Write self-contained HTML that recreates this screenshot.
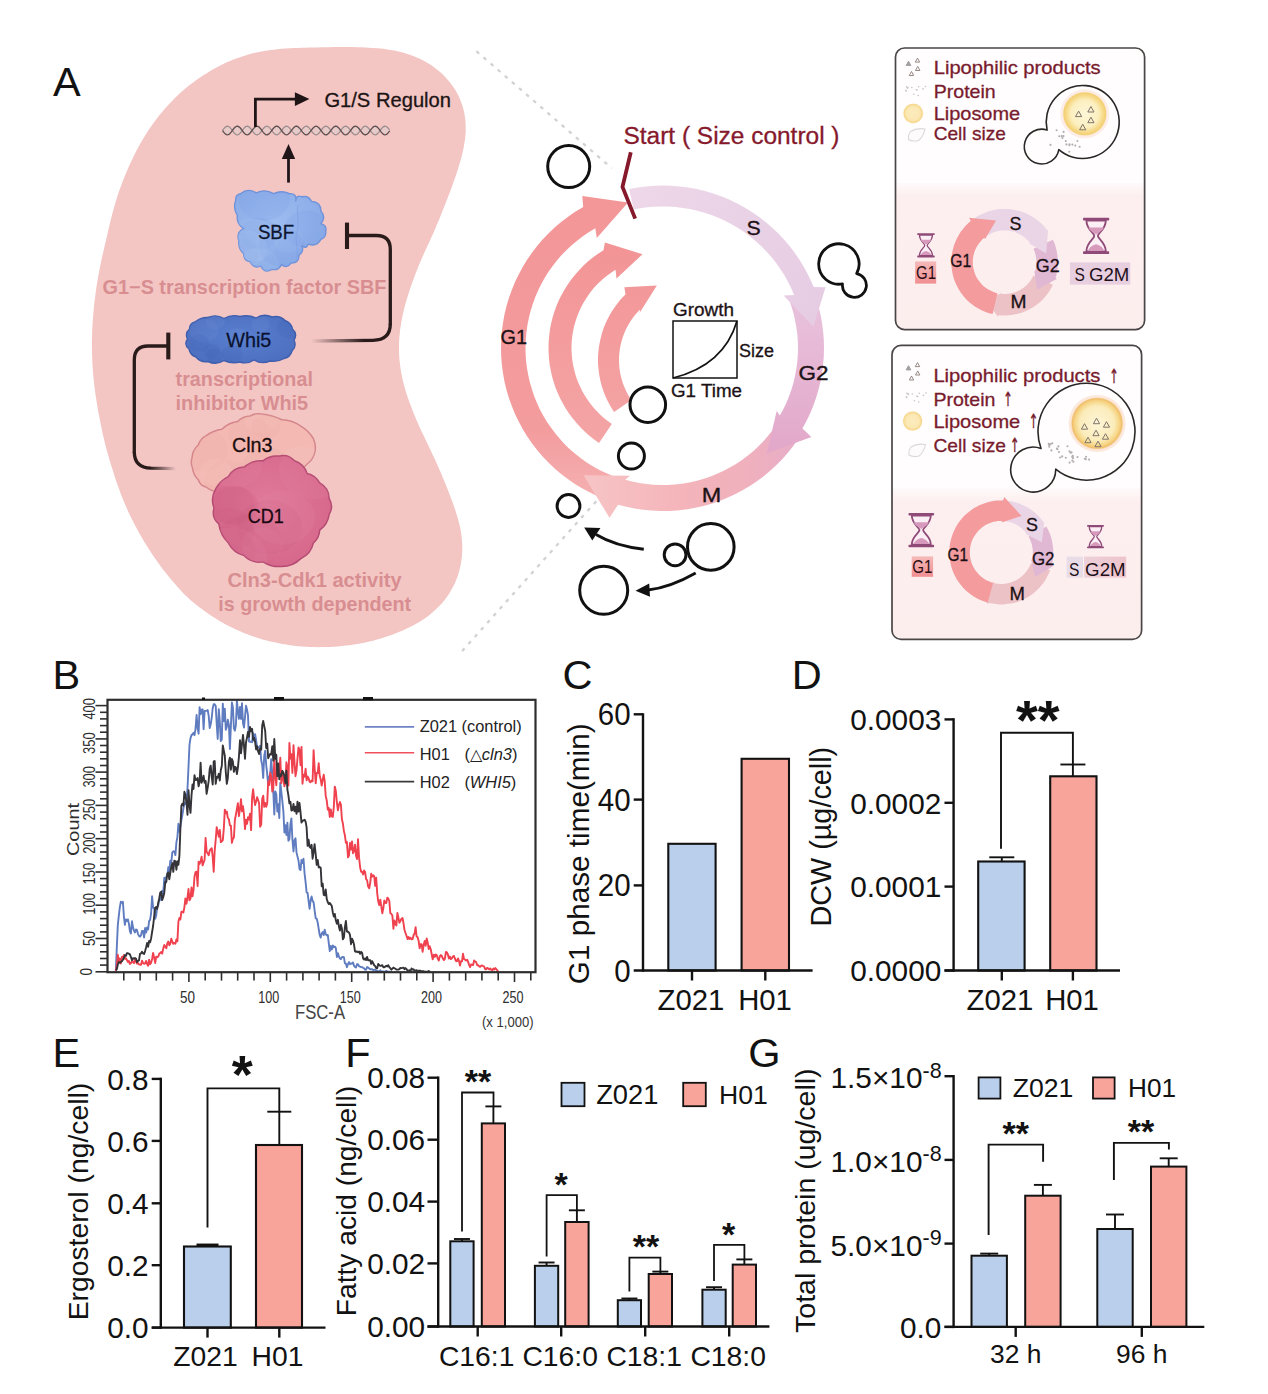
<!DOCTYPE html>
<html><head><meta charset="utf-8"><title>Figure</title>
<style>
html,body{margin:0;padding:0;background:#fff;}
svg{display:block;font-family:'Liberation Sans', sans-serif;}
</style></head><body>
<svg width="1268" height="1394" viewBox="0 0 1268 1394">
<rect width="1268" height="1394" fill="#ffffff"/>
<g id="chartC">
<text x="562.4" y="689.3" font-size="41.5" text-anchor="start" fill="#121212" font-weight="normal" >C</text>
<rect x="668.3" y="843.8" width="47.30000000000007" height="126.70000000000005" fill="#b9cfeb" stroke="#121212" stroke-width="2.1"/>
<rect x="741.6" y="758.8" width="47.39999999999998" height="211.70000000000005" fill="#f8a49b" stroke="#121212" stroke-width="2.1"/>
<line x1="643" y1="713.2" x2="643" y2="971.7" stroke="#121212" stroke-width="2.4" />
<line x1="633.7" y1="970.5" x2="812.6" y2="970.5" stroke="#121212" stroke-width="2.4" />
<line x1="633.7" y1="714.3" x2="643" y2="714.3" stroke="#121212" stroke-width="2.4" />
<text x="630.6" y="725.3" font-size="30.7" text-anchor="end" fill="#121212" font-weight="normal" textLength="32.8" lengthAdjust="spacingAndGlyphs" >60</text>
<line x1="633.7" y1="799.6" x2="643" y2="799.6" stroke="#121212" stroke-width="2.4" />
<text x="630.6" y="810.6" font-size="30.7" text-anchor="end" fill="#121212" font-weight="normal" textLength="32.8" lengthAdjust="spacingAndGlyphs" >40</text>
<line x1="633.7" y1="885.4" x2="643" y2="885.4" stroke="#121212" stroke-width="2.4" />
<text x="630.6" y="896.4" font-size="30.7" text-anchor="end" fill="#121212" font-weight="normal" textLength="32.8" lengthAdjust="spacingAndGlyphs" >20</text>
<text x="630.6" y="981.5" font-size="30.7" text-anchor="end" fill="#121212" font-weight="normal" textLength="16.4" lengthAdjust="spacingAndGlyphs" >0</text>
<line x1="692" y1="970.5" x2="692" y2="980.5" stroke="#121212" stroke-width="2.4" />
<line x1="765.3" y1="970.5" x2="765.3" y2="980.5" stroke="#121212" stroke-width="2.4" />
<text x="691" y="1010" font-size="29.3" text-anchor="middle" fill="#121212" font-weight="normal" >Z021</text>
<text x="765" y="1010" font-size="29.3" text-anchor="middle" fill="#121212" font-weight="normal" >H01</text>
<text transform="translate(589.3,853.8) rotate(-90)" font-size="29.7" text-anchor="middle" fill="#121212" >G1 phase time(min)</text>
</g>
<g id="chartD">
<text x="791.8" y="689" font-size="41.5" text-anchor="start" fill="#121212" font-weight="normal" >D</text>
<line x1="1001.8" y1="857.3" x2="1001.8" y2="862" stroke="#121212" stroke-width="1.9" /><line x1="989.3" y1="857.3" x2="1014.3" y2="857.3" stroke="#121212" stroke-width="1.9" />
<line x1="1072.9" y1="764.5" x2="1072.9" y2="777" stroke="#121212" stroke-width="1.9" /><line x1="1060.4" y1="764.5" x2="1085.4" y2="764.5" stroke="#121212" stroke-width="1.9" />
<rect x="978.2" y="861.5" width="46.399999999999864" height="109.0" fill="#b9cfeb" stroke="#121212" stroke-width="2.1"/>
<rect x="1050.2" y="776.3" width="46.299999999999955" height="194.20000000000005" fill="#f8a49b" stroke="#121212" stroke-width="2.1"/>
<line x1="953.6" y1="718.2" x2="953.6" y2="971.7" stroke="#121212" stroke-width="2.4" />
<line x1="944.5" y1="970.5" x2="1120" y2="970.5" stroke="#121212" stroke-width="2.4" />
<line x1="944.5" y1="719.4" x2="953.6" y2="719.4" stroke="#121212" stroke-width="2.4" />
<text x="941.3" y="730.1" font-size="29.8" text-anchor="end" fill="#121212" font-weight="normal" >0.0003</text>
<line x1="944.5" y1="802.8" x2="953.6" y2="802.8" stroke="#121212" stroke-width="2.4" />
<text x="941.3" y="813.5" font-size="29.8" text-anchor="end" fill="#121212" font-weight="normal" >0.0002</text>
<line x1="944.5" y1="886.6" x2="953.6" y2="886.6" stroke="#121212" stroke-width="2.4" />
<text x="941.3" y="897.3000000000001" font-size="29.8" text-anchor="end" fill="#121212" font-weight="normal" >0.0001</text>
<line x1="944.5" y1="970.5" x2="953.6" y2="970.5" stroke="#121212" stroke-width="2.4" />
<text x="941.3" y="981.2" font-size="29.8" text-anchor="end" fill="#121212" font-weight="normal" >0.0000</text>
<line x1="1001.8" y1="970.5" x2="1001.8" y2="980.5" stroke="#121212" stroke-width="2.4" />
<line x1="1072.9" y1="970.5" x2="1072.9" y2="980.5" stroke="#121212" stroke-width="2.4" />
<text x="1000" y="1010" font-size="29.3" text-anchor="middle" fill="#121212" font-weight="normal" >Z021</text>
<text x="1072" y="1010" font-size="29.3" text-anchor="middle" fill="#121212" font-weight="normal" >H01</text>
<text transform="translate(831,836.7) rotate(-90)" font-size="28.8" text-anchor="middle" fill="#121212" >DCW (µg/cell)</text>
<path d="M1001,848.7 V732.8 H1072.9 V764.5" fill="none" stroke="#121212" stroke-width="1.9"/>
<text x="1037.8" y="739" font-size="56" text-anchor="middle" fill="#121212" font-weight="bold" dominant-baseline="auto">**</text>
</g>
<g id="chartE">
<text x="52.5" y="1067.1" font-size="41.5" text-anchor="start" fill="#121212" font-weight="normal" >E</text>
<line x1="207.5" y1="1244.8" x2="207.5" y2="1248" stroke="#121212" stroke-width="2.5" /><line x1="196.5" y1="1244.8" x2="218.5" y2="1244.8" stroke="#121212" stroke-width="2.5" />
<line x1="279.3" y1="1111.7" x2="279.3" y2="1146" stroke="#121212" stroke-width="1.9" /><line x1="267.3" y1="1111.7" x2="291.3" y2="1111.7" stroke="#121212" stroke-width="1.9" />
<rect x="184" y="1246.5" width="46.80000000000001" height="81.09999999999991" fill="#b9cfeb" stroke="#121212" stroke-width="2.1"/>
<rect x="256" y="1145" width="46" height="182.5999999999999" fill="#f8a49b" stroke="#121212" stroke-width="2.1"/>
<line x1="160.8" y1="1077.7" x2="160.8" y2="1328.8" stroke="#121212" stroke-width="2.4" />
<line x1="151.7" y1="1327.6" x2="325.5" y2="1327.6" stroke="#121212" stroke-width="2.4" />
<line x1="151.7" y1="1078.9" x2="160.8" y2="1078.9" stroke="#121212" stroke-width="2.4" />
<text x="148.6" y="1089.6000000000001" font-size="29.8" text-anchor="end" fill="#121212" font-weight="normal" >0.8</text>
<line x1="151.7" y1="1140.9" x2="160.8" y2="1140.9" stroke="#121212" stroke-width="2.4" />
<text x="148.6" y="1151.6000000000001" font-size="29.8" text-anchor="end" fill="#121212" font-weight="normal" >0.6</text>
<line x1="151.7" y1="1203.3" x2="160.8" y2="1203.3" stroke="#121212" stroke-width="2.4" />
<text x="148.6" y="1214.0" font-size="29.8" text-anchor="end" fill="#121212" font-weight="normal" >0.4</text>
<line x1="151.7" y1="1265.2" x2="160.8" y2="1265.2" stroke="#121212" stroke-width="2.4" />
<text x="148.6" y="1275.9" font-size="29.8" text-anchor="end" fill="#121212" font-weight="normal" >0.2</text>
<line x1="151.7" y1="1327.6" x2="160.8" y2="1327.6" stroke="#121212" stroke-width="2.4" />
<text x="148.6" y="1338.3" font-size="29.8" text-anchor="end" fill="#121212" font-weight="normal" >0.0</text>
<line x1="207.5" y1="1327.6" x2="207.5" y2="1337.6" stroke="#121212" stroke-width="2.4" />
<line x1="279.3" y1="1327.6" x2="279.3" y2="1337.6" stroke="#121212" stroke-width="2.4" />
<text x="205.5" y="1365.6" font-size="28.3" text-anchor="middle" fill="#121212" font-weight="normal" >Z021</text>
<text x="277.5" y="1365.6" font-size="28.3" text-anchor="middle" fill="#121212" font-weight="normal" >H01</text>
<text transform="translate(87.9,1201.6) rotate(-90)" font-size="28.3" text-anchor="middle" fill="#121212" >Ergosterol (ng/cell)</text>
<path d="M207.5,1227.4 V1088.4 H279.3 V1111.7" fill="none" stroke="#121212" stroke-width="1.9"/>
<text x="242.3" y="1093" font-size="54" text-anchor="middle" fill="#121212" font-weight="bold" dominant-baseline="auto">*</text>
</g>
<g id="chartF">
<text x="345.3" y="1067.1" font-size="41.5" text-anchor="start" fill="#121212" font-weight="normal" >F</text>
<line x1="461.95000000000005" y1="1239.0" x2="461.95000000000005" y2="1242.3" stroke="#121212" stroke-width="1.9" /><line x1="453.95000000000005" y1="1239.0" x2="469.95000000000005" y2="1239.0" stroke="#121212" stroke-width="1.9" />
<line x1="493.4" y1="1106.4" x2="493.4" y2="1124.4" stroke="#121212" stroke-width="1.9" /><line x1="485.4" y1="1106.4" x2="501.4" y2="1106.4" stroke="#121212" stroke-width="1.9" />
<rect x="450.3" y="1241.3" width="23.30000000000001" height="85.20000000000005" fill="#b9cfeb" stroke="#121212" stroke-width="2.0"/>
<rect x="481.8" y="1123.4" width="23.19999999999999" height="203.0999999999999" fill="#f8a49b" stroke="#121212" stroke-width="2.0"/>
<line x1="477.7" y1="1326.5" x2="477.7" y2="1336.5" stroke="#121212" stroke-width="2.4" />
<text x="476.7" y="1365.6" font-size="28.3" text-anchor="middle" fill="#121212" font-weight="normal" >C16:1</text>
<line x1="546.55" y1="1262.5" x2="546.55" y2="1266.8" stroke="#121212" stroke-width="1.9" /><line x1="538.55" y1="1262.5" x2="554.55" y2="1262.5" stroke="#121212" stroke-width="1.9" />
<line x1="576.9000000000001" y1="1210.3" x2="576.9000000000001" y2="1223.0" stroke="#121212" stroke-width="1.9" /><line x1="568.9000000000001" y1="1210.3" x2="584.9000000000001" y2="1210.3" stroke="#121212" stroke-width="1.9" />
<rect x="534.9" y="1265.8" width="23.300000000000068" height="60.700000000000045" fill="#b9cfeb" stroke="#121212" stroke-width="2.0"/>
<rect x="565.2" y="1222.0" width="23.399999999999977" height="104.5" fill="#f8a49b" stroke="#121212" stroke-width="2.0"/>
<line x1="561.2" y1="1326.5" x2="561.2" y2="1336.5" stroke="#121212" stroke-width="2.4" />
<text x="560.2" y="1365.6" font-size="28.3" text-anchor="middle" fill="#121212" font-weight="normal" >C16:0</text>
<line x1="629.4" y1="1298.5" x2="629.4" y2="1301.2" stroke="#121212" stroke-width="1.9" /><line x1="621.4" y1="1298.5" x2="637.4" y2="1298.5" stroke="#121212" stroke-width="1.9" />
<line x1="660.35" y1="1271.6" x2="660.35" y2="1275.0" stroke="#121212" stroke-width="1.9" /><line x1="652.35" y1="1271.6" x2="668.35" y2="1271.6" stroke="#121212" stroke-width="1.9" />
<rect x="617.8" y="1300.2" width="23.200000000000045" height="26.299999999999955" fill="#b9cfeb" stroke="#121212" stroke-width="2.0"/>
<rect x="648.7" y="1274.0" width="23.299999999999955" height="52.5" fill="#f8a49b" stroke="#121212" stroke-width="2.0"/>
<line x1="645.2" y1="1326.5" x2="645.2" y2="1336.5" stroke="#121212" stroke-width="2.4" />
<text x="644.2" y="1365.6" font-size="28.3" text-anchor="middle" fill="#121212" font-weight="normal" >C18:1</text>
<line x1="714.05" y1="1287.2" x2="714.05" y2="1290.7" stroke="#121212" stroke-width="1.9" /><line x1="706.05" y1="1287.2" x2="722.05" y2="1287.2" stroke="#121212" stroke-width="1.9" />
<line x1="744.35" y1="1259.4" x2="744.35" y2="1265.6" stroke="#121212" stroke-width="1.9" /><line x1="736.35" y1="1259.4" x2="752.35" y2="1259.4" stroke="#121212" stroke-width="1.9" />
<rect x="702.4" y="1289.7" width="23.300000000000068" height="36.799999999999955" fill="#b9cfeb" stroke="#121212" stroke-width="2.0"/>
<rect x="732.7" y="1264.6" width="23.299999999999955" height="61.90000000000009" fill="#f8a49b" stroke="#121212" stroke-width="2.0"/>
<line x1="729.2" y1="1326.5" x2="729.2" y2="1336.5" stroke="#121212" stroke-width="2.4" />
<text x="728.2" y="1365.6" font-size="28.3" text-anchor="middle" fill="#121212" font-weight="normal" >C18:0</text>
<line x1="438.2" y1="1076.5" x2="438.2" y2="1327.7" stroke="#121212" stroke-width="2.4" />
<line x1="427.5" y1="1326.5" x2="769.4" y2="1326.5" stroke="#121212" stroke-width="2.4" />
<line x1="427.5" y1="1077.7" x2="438.2" y2="1077.7" stroke="#121212" stroke-width="2.4" />
<text x="425.2" y="1088.4" font-size="29.8" text-anchor="end" fill="#121212" font-weight="normal" >0.08</text>
<line x1="427.5" y1="1139.7" x2="438.2" y2="1139.7" stroke="#121212" stroke-width="2.4" />
<text x="425.2" y="1150.4" font-size="29.8" text-anchor="end" fill="#121212" font-weight="normal" >0.06</text>
<line x1="427.5" y1="1201.6" x2="438.2" y2="1201.6" stroke="#121212" stroke-width="2.4" />
<text x="425.2" y="1212.3" font-size="29.8" text-anchor="end" fill="#121212" font-weight="normal" >0.04</text>
<line x1="427.5" y1="1263.4" x2="438.2" y2="1263.4" stroke="#121212" stroke-width="2.4" />
<text x="425.2" y="1274.1000000000001" font-size="29.8" text-anchor="end" fill="#121212" font-weight="normal" >0.02</text>
<line x1="427.5" y1="1326.5" x2="438.2" y2="1326.5" stroke="#121212" stroke-width="2.4" />
<text x="425.2" y="1337.2" font-size="29.8" text-anchor="end" fill="#121212" font-weight="normal" >0.00</text>
<text transform="translate(355.6,1201.1) rotate(-90)" font-size="28.2" text-anchor="middle" fill="#121212" >Fatty acid (ng/cell)</text>
<path d="M462,1231.6 V1092.5 H493.5 V1106.4" fill="none" stroke="#121212" stroke-width="1.8"/>
<text x="478" y="1093" font-size="34" text-anchor="middle" fill="#121212" font-weight="bold" dominant-baseline="auto">**</text>
<path d="M546.6,1256.4 V1195.2 H576.9 V1210.3" fill="none" stroke="#121212" stroke-width="1.8"/>
<text x="561.2" y="1196" font-size="34" text-anchor="middle" fill="#121212" font-weight="bold" dominant-baseline="auto">*</text>
<path d="M629.4,1291.5 V1257.6 H660.4 V1271.6" fill="none" stroke="#121212" stroke-width="1.8"/>
<text x="646" y="1258" font-size="34" text-anchor="middle" fill="#121212" font-weight="bold" dominant-baseline="auto">**</text>
<path d="M714,1281 V1244.8 H744.4 V1259.4" fill="none" stroke="#121212" stroke-width="1.8"/>
<text x="728.6" y="1246" font-size="34" text-anchor="middle" fill="#121212" font-weight="bold" dominant-baseline="auto">*</text>
<rect x="561.5" y="1082.8" width="23" height="23.4" fill="#b9cfeb" stroke="#121212" stroke-width="1.8"/>
<text x="596.2" y="1103.9" font-size="27.3" text-anchor="start" fill="#121212" font-weight="normal" >Z021</text>
<rect x="683.2" y="1082.8" width="22.6" height="23.4" fill="#f8a49b" stroke="#121212" stroke-width="1.8"/>
<text x="719" y="1103.9" font-size="26.6" text-anchor="start" fill="#121212" font-weight="normal" >H01</text>
</g>
<g id="chartG">
<text x="748.2" y="1066.8" font-size="41.5" text-anchor="start" fill="#121212" font-weight="normal" >G</text>
<line x1="989.2" y1="1253.6" x2="989.2" y2="1256.7" stroke="#121212" stroke-width="1.9" /><line x1="980.2" y1="1253.6" x2="998.2" y2="1253.6" stroke="#121212" stroke-width="1.9" />
<rect x="971.5" y="1255.7" width="35.39999999999998" height="71.20000000000005" fill="#b9cfeb" stroke="#121212" stroke-width="2.0"/>
<line x1="1042.9" y1="1184.9" x2="1042.9" y2="1196.7" stroke="#121212" stroke-width="1.9" /><line x1="1033.9" y1="1184.9" x2="1051.9" y2="1184.9" stroke="#121212" stroke-width="1.9" />
<rect x="1025.2" y="1195.7" width="35.399999999999864" height="131.20000000000005" fill="#f8a49b" stroke="#121212" stroke-width="2.0"/>
<line x1="1115.0" y1="1214.5" x2="1115.0" y2="1230.0" stroke="#121212" stroke-width="1.9" /><line x1="1106.0" y1="1214.5" x2="1124.0" y2="1214.5" stroke="#121212" stroke-width="1.9" />
<rect x="1097.3" y="1229.0" width="35.40000000000009" height="97.90000000000009" fill="#b9cfeb" stroke="#121212" stroke-width="2.0"/>
<line x1="1168.7" y1="1158.3" x2="1168.7" y2="1167.6" stroke="#121212" stroke-width="1.9" /><line x1="1159.7" y1="1158.3" x2="1177.7" y2="1158.3" stroke="#121212" stroke-width="1.9" />
<rect x="1151.0" y="1166.6" width="35.40000000000009" height="160.30000000000018" fill="#f8a49b" stroke="#121212" stroke-width="2.0"/>
<line x1="953.6" y1="1075" x2="953.6" y2="1328.1000000000001" stroke="#121212" stroke-width="2.4" />
<line x1="944.5" y1="1326.9" x2="1204.3" y2="1326.9" stroke="#121212" stroke-width="2.4" />
<line x1="944.5" y1="1076.2" x2="953.6" y2="1076.2" stroke="#121212" stroke-width="2.4" />
<text x="941.6" y="1088.2" font-size="29.8" text-anchor="end" fill="#121212">1.5×10<tspan font-size="21.5" dy="-10.6">-8</tspan></text>
<line x1="944.5" y1="1159.9" x2="953.6" y2="1159.9" stroke="#121212" stroke-width="2.4" />
<text x="941.6" y="1171.9" font-size="29.8" text-anchor="end" fill="#121212">1.0×10<tspan font-size="21.5" dy="-10.6">-8</tspan></text>
<line x1="944.5" y1="1243.6" x2="953.6" y2="1243.6" stroke="#121212" stroke-width="2.4" />
<text x="941.6" y="1255.6" font-size="29.8" text-anchor="end" fill="#121212">5.0×10<tspan font-size="21.5" dy="-10.6">-9</tspan></text>
<line x1="944.5" y1="1326.9" x2="953.6" y2="1326.9" stroke="#121212" stroke-width="2.4" />
<text x="941.3" y="1337.6000000000001" font-size="29.8" text-anchor="end" fill="#121212" font-weight="normal" >0.0</text>
<line x1="1015.7" y1="1326.9" x2="1015.7" y2="1336.9" stroke="#121212" stroke-width="2.4" />
<text x="1015.7" y="1363" font-size="26.4" text-anchor="middle" fill="#121212" font-weight="normal" >32 h</text>
<line x1="1141.8" y1="1326.9" x2="1141.8" y2="1336.9" stroke="#121212" stroke-width="2.4" />
<text x="1141.8" y="1363" font-size="26.4" text-anchor="middle" fill="#121212" font-weight="normal" >96 h</text>
<text transform="translate(814.6,1200.7) rotate(-90)" font-size="28.5" text-anchor="middle" fill="#121212" >Total protein (ug/cell)</text>
<path d="M988.6,1234.9 V1144.6 H1043.1 V1161.8" fill="none" stroke="#121212" stroke-width="1.9"/>
<text x="1015.7" y="1144.5" font-size="34" text-anchor="middle" fill="#121212" font-weight="bold" dominant-baseline="auto">**</text>
<path d="M1113.9,1179.9 V1142.9 H1168.9 V1149.5" fill="none" stroke="#121212" stroke-width="1.9"/>
<text x="1141" y="1143" font-size="34" text-anchor="middle" fill="#121212" font-weight="bold" dominant-baseline="auto">**</text>
<rect x="978.6" y="1077.4" width="21.8" height="21.2" fill="#b9cfeb" stroke="#121212" stroke-width="1.8"/>
<text x="1012.7" y="1097" font-size="26.6" text-anchor="start" fill="#121212" font-weight="normal" >Z021</text>
<rect x="1093" y="1077.4" width="21.6" height="21.2" fill="#f8a49b" stroke="#121212" stroke-width="1.8"/>
<text x="1128" y="1097" font-size="26.2" text-anchor="start" fill="#121212" font-weight="normal" >H01</text>
</g>
<g id="panelB">
<text x="52.4" y="689" font-size="41.5" text-anchor="start" fill="#121212" font-weight="normal" >B</text>
<clipPath id="bclip"><rect x="107.5" y="700" width="428" height="272.5"/></clipPath>
<g clip-path="url(#bclip)" fill="none" stroke-linejoin="round" stroke-width="1.9">
<polyline points="115.8,971.8 116.8,947.6 117.8,925.1 118.8,915.9 119.8,907.3 120.8,901.8 121.9,902.7 122.9,901.8 123.9,916.6 124.9,924.8 125.9,919.4 126.9,920.9 127.9,919.4 128.9,923.6 129.9,931.2 130.9,933.5 132.0,921.3 133.0,927.4 134.0,930.6 135.0,932.5 136.0,929.5 137.0,930.1 138.0,934.1 139.0,935.9 140.0,936.6 141.0,935.2 142.0,930.9 143.1,931.0 144.1,937.5 145.1,928.0 146.1,932.5 147.1,927.5 148.1,929.5 149.1,921.2 150.1,919.9 151.1,913.2 152.1,896.3 153.1,907.7 154.2,907.9 155.2,918.8 156.2,915.5 157.2,907.2 158.2,905.7 159.2,900.1 160.2,897.2 161.2,900.2 162.2,890.7 163.2,894.0 164.3,877.7 165.3,883.9 166.3,876.6 167.3,875.8 168.3,867.1 169.3,871.7 170.3,860.8 171.3,862.5 172.3,852.4 173.3,851.3 174.3,851.5 175.4,855.1 176.4,842.4 177.4,837.1 178.4,823.8 179.4,831.8 180.4,825.9 181.4,820.1 182.4,814.8 183.4,808.6 184.4,802.6 185.4,804.0 186.5,801.6 187.5,788.0 188.5,766.9 189.5,744.6 190.5,738.1 191.5,735.1 192.5,734.4 193.5,732.7 194.5,735.2 195.5,729.1 196.6,715.0 197.6,728.0 198.6,733.7 199.6,707.1 200.6,714.2 201.6,709.9 202.6,709.3 203.6,729.1 204.6,710.9 205.6,710.9 206.6,710.9 207.7,710.0 208.7,715.9 209.7,728.0 210.7,724.3 211.7,718.0 212.7,708.2 213.7,704.3 214.7,704.3 215.7,705.9 216.7,724.0 217.7,738.9 218.8,709.1 219.8,721.5 220.8,741.1 221.8,739.5 222.8,703.6 223.8,721.0 224.8,708.6 225.8,729.7 226.8,727.0 227.8,719.6 228.9,725.0 229.9,749.0 230.9,725.7 231.9,702.5 232.9,707.5 233.9,728.4 234.9,730.7 235.9,725.1 236.9,700.6 237.9,710.6 238.9,718.8 240.0,707.0 241.0,718.9 242.0,703.3 243.0,723.1 244.0,727.6 245.0,716.9 246.0,705.8 247.0,709.4 248.0,715.4 249.0,741.5 250.0,741.7 251.1,741.8 252.1,742.2 253.1,733.1 254.1,740.7 255.1,734.2 256.1,740.2 257.1,747.4 258.1,747.4 259.1,747.1 260.1,745.7 261.2,760.2 262.2,765.0 263.2,777.9 264.2,755.9 265.2,750.7 266.2,765.0 267.2,773.8 268.2,784.8 269.2,776.9 270.2,774.5 271.2,759.1 272.3,774.1 273.3,791.5 274.3,814.5 275.3,791.4 276.3,794.2 277.3,811.5 278.3,804.2 279.3,818.0 280.3,782.7 281.3,791.5 282.3,800.7 283.4,811.6 284.4,832.5 285.4,825.2 286.4,835.0 287.4,822.7 288.4,840.8 289.4,839.3 290.4,824.5 291.4,818.4 292.4,839.5 293.5,851.5 294.5,840.2 295.5,838.3 296.5,852.4 297.5,856.6 298.5,860.5 299.5,869.0 300.5,870.1 301.5,859.9 302.5,863.1 303.5,858.8 304.6,873.8 305.6,882.1 306.6,892.4 307.6,892.8 308.6,901.1 309.6,908.8 310.6,900.5 311.6,896.5 312.6,900.9 313.6,902.4 314.6,910.1 315.7,918.4 316.7,918.7 317.7,922.5 318.7,928.8 319.7,935.0 320.7,937.6 321.7,933.5 322.7,932.1 323.7,935.0 324.7,929.8 325.7,934.0 326.8,935.4 327.8,935.0 328.8,943.3 329.8,951.1 330.8,945.9 331.8,949.6 332.8,945.4 333.8,947.2 334.8,946.6 335.8,947.8 336.9,957.0 337.9,953.2 338.9,956.4 339.9,958.5 340.9,959.1 341.9,957.1 342.9,956.9 343.9,957.2 344.9,963.4 345.9,963.4 346.9,967.2 348.0,964.2 349.0,962.1 350.0,964.2 351.0,963.4 352.0,963.5 353.0,962.5 354.0,965.6 355.0,966.9 356.0,967.5 357.0,964.2 358.0,964.3 359.1,966.3 360.1,966.6 361.1,967.0 362.1,967.1 363.1,967.8 364.1,968.3 365.1,969.8 366.1,969.6 367.1,967.0 368.1,967.6 369.2,968.4 370.2,969.2 371.2,969.2 372.2,969.1 373.2,970.1 374.2,969.8 375.2,969.7 376.2,970.5 377.2,970.9 378.2,971.3 379.2,971.5 380.3,970.3 381.3,971.8 382.3,971.5 383.3,971.5 384.3,971.6 385.3,971.4 386.3,970.9 387.3,971.3 388.3,971.6 389.3,971.8 390.3,971.8" stroke="#5f7cc0"/>
<polyline points="115.8,970.9 116.8,965.5 117.8,954.8 118.8,961.4 119.8,958.6 120.8,963.5 121.9,957.0 122.9,957.4 123.9,955.0 124.9,958.8 125.9,958.3 126.9,960.0 127.9,961.9 128.9,960.9 129.9,963.9 130.9,963.3 132.0,961.1 133.0,961.9 134.0,963.2 135.0,958.5 136.0,961.3 137.0,963.6 138.0,963.1 139.0,964.4 140.0,964.7 141.0,964.9 142.0,960.7 143.1,963.1 144.1,963.8 145.1,963.3 146.1,960.9 147.1,964.0 148.1,965.7 149.1,959.7 150.1,964.2 151.1,962.7 152.1,959.0 153.1,953.0 154.2,957.9 155.2,963.0 156.2,956.7 157.2,957.2 158.2,956.7 159.2,953.7 160.2,952.9 161.2,952.1 162.2,953.6 163.2,948.6 164.3,945.0 165.3,947.0 166.3,948.2 167.3,943.4 168.3,941.5 169.3,945.3 170.3,943.9 171.3,938.7 172.3,941.5 173.3,943.8 174.3,943.0 175.4,943.8 176.4,939.4 177.4,941.3 178.4,921.8 179.4,918.0 180.4,919.4 181.4,911.6 182.4,911.7 183.4,912.6 184.4,907.1 185.4,898.4 186.5,903.7 187.5,897.6 188.5,889.0 189.5,900.3 190.5,898.5 191.5,887.4 192.5,896.4 193.5,890.0 194.5,876.8 195.5,872.1 196.6,871.7 197.6,886.0 198.6,861.8 199.6,863.9 200.6,861.4 201.6,856.7 202.6,865.4 203.6,862.5 204.6,859.8 205.6,837.9 206.6,851.7 207.7,853.4 208.7,855.2 209.7,850.7 210.7,849.4 211.7,848.2 212.7,856.9 213.7,871.8 214.7,850.3 215.7,839.9 216.7,827.1 217.7,831.5 218.8,836.7 219.8,829.9 220.8,842.1 221.8,841.5 222.8,840.2 223.8,828.7 224.8,809.6 225.8,813.4 226.8,811.5 227.8,817.8 228.9,819.3 229.9,825.3 230.9,825.7 231.9,842.9 232.9,838.7 233.9,837.7 234.9,819.8 235.9,814.8 236.9,808.9 237.9,803.2 238.9,816.1 240.0,809.2 241.0,799.1 242.0,811.4 243.0,806.3 244.0,814.6 245.0,829.1 246.0,819.6 247.0,823.8 248.0,817.3 249.0,819.6 250.0,813.7 251.1,830.1 252.1,797.5 253.1,789.3 254.1,798.7 255.1,805.1 256.1,801.6 257.1,797.1 258.1,800.0 259.1,803.3 260.1,826.7 261.2,824.6 262.2,798.9 263.2,795.7 264.2,806.8 265.2,802.9 266.2,806.8 267.2,803.4 268.2,781.3 269.2,785.1 270.2,772.8 271.2,776.0 272.3,791.6 273.3,788.2 274.3,758.6 275.3,776.4 276.3,785.2 277.3,766.2 278.3,769.9 279.3,771.6 280.3,757.7 281.3,783.1 282.3,770.7 283.4,780.0 284.4,786.3 285.4,782.6 286.4,762.3 287.4,767.5 288.4,785.5 289.4,742.9 290.4,758.6 291.4,754.2 292.4,772.9 293.5,745.2 294.5,762.3 295.5,776.2 296.5,770.7 297.5,758.2 298.5,747.5 299.5,749.8 300.5,765.2 301.5,746.9 302.5,783.7 303.5,774.7 304.6,776.7 305.6,768.8 306.6,780.2 307.6,776.5 308.6,778.3 309.6,781.6 310.6,782.3 311.6,780.5 312.6,781.3 313.6,750.2 314.6,767.5 315.7,783.3 316.7,773.0 317.7,773.1 318.7,763.3 319.7,775.5 320.7,779.6 321.7,785.6 322.7,780.0 323.7,774.6 324.7,781.2 325.7,795.9 326.8,800.8 327.8,809.6 328.8,808.1 329.8,817.0 330.8,809.4 331.8,816.4 332.8,816.8 333.8,807.4 334.8,786.6 335.8,790.7 336.9,802.6 337.9,810.3 338.9,805.0 339.9,802.0 340.9,804.5 341.9,819.3 342.9,823.5 343.9,831.1 344.9,835.3 345.9,842.8 346.9,842.1 348.0,857.4 349.0,855.5 350.0,842.9 351.0,849.6 352.0,841.4 353.0,853.2 354.0,850.8 355.0,844.6 356.0,855.6 357.0,859.1 358.0,839.2 359.1,857.9 360.1,867.1 361.1,871.9 362.1,871.8 363.1,874.4 364.1,870.5 365.1,872.0 366.1,879.2 367.1,880.1 368.1,886.3 369.2,888.2 370.2,883.1 371.2,873.8 372.2,876.6 373.2,875.2 374.2,876.2 375.2,885.8 376.2,877.7 377.2,893.1 378.2,901.3 379.2,905.1 380.3,899.6 381.3,906.4 382.3,913.4 383.3,908.3 384.3,900.5 385.3,902.8 386.3,903.1 387.3,897.7 388.3,898.5 389.3,901.0 390.3,913.1 391.4,913.9 392.4,915.8 393.4,928.8 394.4,920.4 395.4,923.7 396.4,925.4 397.4,912.9 398.4,917.7 399.4,922.8 400.4,921.0 401.5,918.7 402.5,918.0 403.5,923.2 404.5,930.0 405.5,933.0 406.5,935.8 407.5,939.0 408.5,936.9 409.5,939.0 410.5,937.7 411.5,939.3 412.6,939.0 413.6,935.1 414.6,933.6 415.6,927.2 416.6,936.3 417.6,937.2 418.6,940.7 419.6,948.2 420.6,944.3 421.6,944.1 422.6,951.8 423.7,944.8 424.7,941.0 425.7,945.7 426.7,938.5 427.7,942.4 428.7,949.0 429.7,946.2 430.7,949.2 431.7,954.3 432.7,959.3 433.8,954.7 434.8,956.8 435.8,954.5 436.8,955.3 437.8,958.7 438.8,960.6 439.8,956.4 440.8,955.1 441.8,956.0 442.8,958.3 443.8,960.1 444.9,958.6 445.9,952.0 446.9,952.4 447.9,954.5 448.9,958.5 449.9,956.5 450.9,959.1 451.9,958.2 452.9,956.6 453.9,955.9 454.9,958.5 456.0,961.0 457.0,961.2 458.0,958.4 459.0,960.9 460.0,965.6 461.0,961.1 462.0,961.3 463.0,953.8 464.0,959.0 465.0,959.6 466.1,960.6 467.1,959.7 468.1,961.9 469.1,964.9 470.1,967.1 471.1,964.4 472.1,964.6 473.1,965.1 474.1,960.4 475.1,961.7 476.1,962.0 477.2,965.2 478.2,965.2 479.2,966.3 480.2,966.8 481.2,965.6 482.2,965.5 483.2,966.1 484.2,966.6 485.2,969.2 486.2,969.3 487.2,967.9 488.3,968.6 489.3,969.4 490.3,968.5 491.3,969.8 492.3,970.1 493.3,968.6 494.3,969.5 495.3,968.0 496.3,969.2 497.3,970.3 498.2,971.8" stroke="#f0414e"/>
<polyline points="115.8,970.1 116.8,969.2 117.8,964.5 118.8,962.1 119.8,962.7 120.8,962.1 121.9,961.3 122.9,959.7 123.9,957.9 124.9,955.3 125.9,955.8 126.9,953.2 127.9,953.3 128.9,953.7 129.9,954.4 130.9,957.0 132.0,960.1 133.0,958.3 134.0,958.5 135.0,958.2 136.0,958.6 137.0,962.2 138.0,960.9 139.0,960.4 140.0,953.9 141.0,953.4 142.0,951.7 143.1,953.4 144.1,954.0 145.1,951.1 146.1,947.4 147.1,943.0 148.1,946.8 149.1,941.0 150.1,942.3 151.1,938.4 152.1,932.0 153.1,926.0 154.2,916.2 155.2,908.0 156.2,906.9 157.2,908.9 158.2,902.8 159.2,898.7 160.2,892.6 161.2,891.7 162.2,900.0 163.2,897.2 164.3,892.7 165.3,881.8 166.3,881.8 167.3,873.7 168.3,872.5 169.3,879.3 170.3,873.1 171.3,866.5 172.3,863.2 173.3,871.8 174.3,860.7 175.4,861.3 176.4,869.7 177.4,861.3 178.4,864.8 179.4,856.0 180.4,828.3 181.4,805.6 182.4,803.7 183.4,805.7 184.4,791.8 185.4,794.9 186.5,802.8 187.5,814.7 188.5,790.3 189.5,805.1 190.5,812.9 191.5,795.5 192.5,784.5 193.5,789.0 194.5,775.1 195.5,780.1 196.6,779.8 197.6,778.1 198.6,786.3 199.6,782.1 200.6,762.6 201.6,782.7 202.6,780.1 203.6,775.8 204.6,782.9 205.6,780.9 206.6,793.9 207.7,787.5 208.7,780.9 209.7,769.0 210.7,765.6 211.7,776.7 212.7,784.5 213.7,761.5 214.7,761.1 215.7,783.9 216.7,776.9 217.7,777.7 218.8,773.8 219.8,780.5 220.8,770.0 221.8,766.0 222.8,745.5 223.8,750.6 224.8,755.8 225.8,772.1 226.8,783.8 227.8,778.3 228.9,761.5 229.9,757.6 230.9,769.7 231.9,759.0 232.9,761.7 233.9,771.9 234.9,766.6 235.9,767.5 236.9,774.1 237.9,767.6 238.9,757.2 240.0,740.3 241.0,753.3 242.0,744.2 243.0,734.9 244.0,745.6 245.0,758.8 246.0,742.4 247.0,737.6 248.0,731.9 249.0,736.9 250.0,727.0 251.1,731.4 252.1,728.8 253.1,739.7 254.1,737.9 255.1,741.8 256.1,749.5 257.1,746.1 258.1,751.4 259.1,754.0 260.1,748.8 261.2,749.6 262.2,725.8 263.2,720.9 264.2,726.1 265.2,731.0 266.2,748.0 267.2,743.6 268.2,758.2 269.2,755.9 270.2,753.9 271.2,754.5 272.3,746.1 273.3,760.6 274.3,739.0 275.3,758.9 276.3,754.7 277.3,776.1 278.3,763.4 279.3,779.3 280.3,774.2 281.3,775.9 282.3,771.0 283.4,772.6 284.4,776.3 285.4,783.2 286.4,770.7 287.4,789.6 288.4,795.3 289.4,803.3 290.4,801.7 291.4,810.5 292.4,810.2 293.5,803.9 294.5,811.3 295.5,806.6 296.5,813.9 297.5,801.6 298.5,811.6 299.5,803.0 300.5,812.2 301.5,822.6 302.5,820.7 303.5,820.6 304.6,819.7 305.6,821.6 306.6,827.4 307.6,845.9 308.6,839.8 309.6,846.8 310.6,848.0 311.6,844.8 312.6,858.7 313.6,851.9 314.6,844.1 315.7,854.3 316.7,864.9 317.7,859.9 318.7,867.5 319.7,867.0 320.7,867.7 321.7,886.2 322.7,883.7 323.7,894.9 324.7,895.3 325.7,889.5 326.8,899.3 327.8,902.3 328.8,904.1 329.8,903.0 330.8,904.4 331.8,906.1 332.8,912.4 333.8,916.6 334.8,913.9 335.8,920.3 336.9,923.7 337.9,919.8 338.9,926.4 339.9,930.5 340.9,924.8 341.9,928.6 342.9,939.3 343.9,937.5 344.9,927.1 345.9,920.9 346.9,931.3 348.0,931.9 349.0,932.6 350.0,934.8 351.0,944.2 352.0,938.8 353.0,940.7 354.0,944.5 355.0,951.4 356.0,951.9 357.0,951.4 358.0,952.2 359.1,951.6 360.1,953.8 361.1,951.8 362.1,952.9 363.1,958.4 364.1,959.6 365.1,958.2 366.1,960.1 367.1,956.9 368.1,960.3 369.2,960.3 370.2,960.1 371.2,963.9 372.2,961.2 373.2,963.3 374.2,965.2 375.2,966.1 376.2,968.0 377.2,968.3 378.2,963.9 379.2,965.1 380.3,965.9 381.3,965.7 382.3,965.2 383.3,967.2 384.3,967.2 385.3,966.7 386.3,965.7 387.3,966.5 388.3,965.2 389.3,967.2 390.3,968.1 391.4,969.7 392.4,968.7 393.4,967.6 394.4,968.3 395.4,968.6 396.4,969.6 397.4,969.6 398.4,969.5 399.4,969.2 400.4,967.9 401.5,968.1 402.5,967.9 403.5,967.6 404.5,969.2 405.5,968.1 406.5,969.1 407.5,970.7 408.5,970.6 409.5,970.2 410.5,971.3 411.5,968.5 412.6,969.6 413.6,969.3 414.6,970.9 415.6,970.5 416.6,970.3 417.6,971.0 418.6,970.7 419.6,970.8 420.6,970.7 421.6,971.6 422.6,971.1 423.7,971.3 424.7,971.7 425.7,971.8 426.7,971.8 427.7,971.8 428.7,971.0 429.7,971.8 430.3,971.8" stroke="#333338"/>
</g>
<rect x="107.5" y="699.8" width="428" height="272.4" fill="none" stroke="#2e2e2e" stroke-width="2.2"/>
<rect x="202" y="697.5" width="3" height="2.5" fill="#121212"/><rect x="274" y="697" width="10" height="3.2" fill="#121212"/><rect x="363" y="697" width="10" height="3.2" fill="#121212"/>
<line x1="95.5" y1="971.8" x2="107.5" y2="971.8" stroke="#2e2e2e" stroke-width="1.6" />
<line x1="100.0" y1="965.1" x2="107.5" y2="965.1" stroke="#2e2e2e" stroke-width="1.6" />
<line x1="100.0" y1="958.5" x2="107.5" y2="958.5" stroke="#2e2e2e" stroke-width="1.6" />
<line x1="100.0" y1="951.8" x2="107.5" y2="951.8" stroke="#2e2e2e" stroke-width="1.6" />
<line x1="100.0" y1="945.2" x2="107.5" y2="945.2" stroke="#2e2e2e" stroke-width="1.6" />
<line x1="95.5" y1="938.5" x2="107.5" y2="938.5" stroke="#2e2e2e" stroke-width="1.6" />
<line x1="100.0" y1="931.9" x2="107.5" y2="931.9" stroke="#2e2e2e" stroke-width="1.6" />
<line x1="100.0" y1="925.2" x2="107.5" y2="925.2" stroke="#2e2e2e" stroke-width="1.6" />
<line x1="100.0" y1="918.6" x2="107.5" y2="918.6" stroke="#2e2e2e" stroke-width="1.6" />
<line x1="100.0" y1="911.9" x2="107.5" y2="911.9" stroke="#2e2e2e" stroke-width="1.6" />
<line x1="95.5" y1="905.2" x2="107.5" y2="905.2" stroke="#2e2e2e" stroke-width="1.6" />
<line x1="100.0" y1="898.6" x2="107.5" y2="898.6" stroke="#2e2e2e" stroke-width="1.6" />
<line x1="100.0" y1="891.9" x2="107.5" y2="891.9" stroke="#2e2e2e" stroke-width="1.6" />
<line x1="100.0" y1="885.3" x2="107.5" y2="885.3" stroke="#2e2e2e" stroke-width="1.6" />
<line x1="100.0" y1="878.6" x2="107.5" y2="878.6" stroke="#2e2e2e" stroke-width="1.6" />
<line x1="95.5" y1="872.0" x2="107.5" y2="872.0" stroke="#2e2e2e" stroke-width="1.6" />
<line x1="100.0" y1="865.3" x2="107.5" y2="865.3" stroke="#2e2e2e" stroke-width="1.6" />
<line x1="100.0" y1="858.7" x2="107.5" y2="858.7" stroke="#2e2e2e" stroke-width="1.6" />
<line x1="100.0" y1="852.0" x2="107.5" y2="852.0" stroke="#2e2e2e" stroke-width="1.6" />
<line x1="100.0" y1="845.4" x2="107.5" y2="845.4" stroke="#2e2e2e" stroke-width="1.6" />
<line x1="95.5" y1="838.7" x2="107.5" y2="838.7" stroke="#2e2e2e" stroke-width="1.6" />
<line x1="100.0" y1="832.0" x2="107.5" y2="832.0" stroke="#2e2e2e" stroke-width="1.6" />
<line x1="100.0" y1="825.4" x2="107.5" y2="825.4" stroke="#2e2e2e" stroke-width="1.6" />
<line x1="100.0" y1="818.7" x2="107.5" y2="818.7" stroke="#2e2e2e" stroke-width="1.6" />
<line x1="100.0" y1="812.1" x2="107.5" y2="812.1" stroke="#2e2e2e" stroke-width="1.6" />
<line x1="95.5" y1="805.4" x2="107.5" y2="805.4" stroke="#2e2e2e" stroke-width="1.6" />
<line x1="100.0" y1="798.8" x2="107.5" y2="798.8" stroke="#2e2e2e" stroke-width="1.6" />
<line x1="100.0" y1="792.1" x2="107.5" y2="792.1" stroke="#2e2e2e" stroke-width="1.6" />
<line x1="100.0" y1="785.5" x2="107.5" y2="785.5" stroke="#2e2e2e" stroke-width="1.6" />
<line x1="100.0" y1="778.8" x2="107.5" y2="778.8" stroke="#2e2e2e" stroke-width="1.6" />
<line x1="95.5" y1="772.1" x2="107.5" y2="772.1" stroke="#2e2e2e" stroke-width="1.6" />
<line x1="100.0" y1="765.5" x2="107.5" y2="765.5" stroke="#2e2e2e" stroke-width="1.6" />
<line x1="100.0" y1="758.8" x2="107.5" y2="758.8" stroke="#2e2e2e" stroke-width="1.6" />
<line x1="100.0" y1="752.2" x2="107.5" y2="752.2" stroke="#2e2e2e" stroke-width="1.6" />
<line x1="100.0" y1="745.5" x2="107.5" y2="745.5" stroke="#2e2e2e" stroke-width="1.6" />
<line x1="95.5" y1="738.9" x2="107.5" y2="738.9" stroke="#2e2e2e" stroke-width="1.6" />
<line x1="100.0" y1="732.2" x2="107.5" y2="732.2" stroke="#2e2e2e" stroke-width="1.6" />
<line x1="100.0" y1="725.6" x2="107.5" y2="725.6" stroke="#2e2e2e" stroke-width="1.6" />
<line x1="100.0" y1="718.9" x2="107.5" y2="718.9" stroke="#2e2e2e" stroke-width="1.6" />
<line x1="100.0" y1="712.3" x2="107.5" y2="712.3" stroke="#2e2e2e" stroke-width="1.6" />
<line x1="95.5" y1="705.6" x2="107.5" y2="705.6" stroke="#2e2e2e" stroke-width="1.6" />
<text transform="translate(92,971.6) rotate(-90)" font-size="16.2" text-anchor="middle" fill="#2e2e2e" textLength="7.6" lengthAdjust="spacingAndGlyphs">0</text>
<text transform="translate(95.2,708.8) rotate(-90)" font-size="16.2" text-anchor="middle" fill="#2e2e2e" textLength="21.5" lengthAdjust="spacingAndGlyphs">400</text>
<text transform="translate(95.2,743.2) rotate(-90)" font-size="16.2" text-anchor="middle" fill="#2e2e2e" textLength="21.5" lengthAdjust="spacingAndGlyphs">350</text>
<text transform="translate(95.2,776.8) rotate(-90)" font-size="16.2" text-anchor="middle" fill="#2e2e2e" textLength="21.5" lengthAdjust="spacingAndGlyphs">300</text>
<text transform="translate(95.2,809.7) rotate(-90)" font-size="16.2" text-anchor="middle" fill="#2e2e2e" textLength="21.5" lengthAdjust="spacingAndGlyphs">250</text>
<text transform="translate(95.2,843.1) rotate(-90)" font-size="16.2" text-anchor="middle" fill="#2e2e2e" textLength="21.5" lengthAdjust="spacingAndGlyphs">200</text>
<text transform="translate(95.2,873.7) rotate(-90)" font-size="16.2" text-anchor="middle" fill="#2e2e2e" textLength="21.5" lengthAdjust="spacingAndGlyphs">150</text>
<text transform="translate(95.2,903.9) rotate(-90)" font-size="16.2" text-anchor="middle" fill="#2e2e2e" textLength="21.5" lengthAdjust="spacingAndGlyphs">100</text>
<text transform="translate(95.2,938.5) rotate(-90)" font-size="16.2" text-anchor="middle" fill="#2e2e2e" textLength="15" lengthAdjust="spacingAndGlyphs">50</text>
<text transform="translate(78.5,829.5) rotate(-90)" font-size="16.5" text-anchor="middle" fill="#2e2e2e" textLength="53" lengthAdjust="spacingAndGlyphs">Count</text>
<line x1="123.8" y1="972" x2="123.8" y2="980.6" stroke="#2e2e2e" stroke-width="1.6" />
<line x1="140.1" y1="972" x2="140.1" y2="980.6" stroke="#2e2e2e" stroke-width="1.6" />
<line x1="156.3" y1="972" x2="156.3" y2="980.6" stroke="#2e2e2e" stroke-width="1.6" />
<line x1="172.6" y1="972" x2="172.6" y2="980.6" stroke="#2e2e2e" stroke-width="1.6" />
<line x1="188.9" y1="972" x2="188.9" y2="982" stroke="#2e2e2e" stroke-width="1.6" />
<line x1="205.2" y1="972" x2="205.2" y2="980.6" stroke="#2e2e2e" stroke-width="1.6" />
<line x1="221.5" y1="972" x2="221.5" y2="980.6" stroke="#2e2e2e" stroke-width="1.6" />
<line x1="237.7" y1="972" x2="237.7" y2="980.6" stroke="#2e2e2e" stroke-width="1.6" />
<line x1="254.0" y1="972" x2="254.0" y2="980.6" stroke="#2e2e2e" stroke-width="1.6" />
<line x1="270.3" y1="972" x2="270.3" y2="982" stroke="#2e2e2e" stroke-width="1.6" />
<line x1="286.6" y1="972" x2="286.6" y2="980.6" stroke="#2e2e2e" stroke-width="1.6" />
<line x1="302.9" y1="972" x2="302.9" y2="980.6" stroke="#2e2e2e" stroke-width="1.6" />
<line x1="319.1" y1="972" x2="319.1" y2="980.6" stroke="#2e2e2e" stroke-width="1.6" />
<line x1="335.4" y1="972" x2="335.4" y2="980.6" stroke="#2e2e2e" stroke-width="1.6" />
<line x1="351.7" y1="972" x2="351.7" y2="982" stroke="#2e2e2e" stroke-width="1.6" />
<line x1="368.0" y1="972" x2="368.0" y2="980.6" stroke="#2e2e2e" stroke-width="1.6" />
<line x1="384.3" y1="972" x2="384.3" y2="980.6" stroke="#2e2e2e" stroke-width="1.6" />
<line x1="400.5" y1="972" x2="400.5" y2="980.6" stroke="#2e2e2e" stroke-width="1.6" />
<line x1="416.8" y1="972" x2="416.8" y2="980.6" stroke="#2e2e2e" stroke-width="1.6" />
<line x1="433.1" y1="972" x2="433.1" y2="982" stroke="#2e2e2e" stroke-width="1.6" />
<line x1="449.4" y1="972" x2="449.4" y2="980.6" stroke="#2e2e2e" stroke-width="1.6" />
<line x1="465.7" y1="972" x2="465.7" y2="980.6" stroke="#2e2e2e" stroke-width="1.6" />
<line x1="481.9" y1="972" x2="481.9" y2="980.6" stroke="#2e2e2e" stroke-width="1.6" />
<line x1="498.2" y1="972" x2="498.2" y2="980.6" stroke="#2e2e2e" stroke-width="1.6" />
<line x1="514.5" y1="972" x2="514.5" y2="982" stroke="#2e2e2e" stroke-width="1.6" />
<line x1="530.8" y1="972" x2="530.8" y2="980.6" stroke="#2e2e2e" stroke-width="1.6" />
<text x="187.4" y="1003.4" font-size="16.2" text-anchor="middle" fill="#2e2e2e" textLength="15" lengthAdjust="spacingAndGlyphs">50</text>
<text x="268.8" y="1003.4" font-size="16.2" text-anchor="middle" fill="#2e2e2e" textLength="21" lengthAdjust="spacingAndGlyphs">100</text>
<text x="350.2" y="1003.4" font-size="16.2" text-anchor="middle" fill="#2e2e2e" textLength="21" lengthAdjust="spacingAndGlyphs">150</text>
<text x="431.6" y="1003.4" font-size="16.2" text-anchor="middle" fill="#2e2e2e" textLength="21" lengthAdjust="spacingAndGlyphs">200</text>
<text x="513.0" y="1003.4" font-size="16.2" text-anchor="middle" fill="#2e2e2e" textLength="21" lengthAdjust="spacingAndGlyphs">250</text>
<text x="295" y="1019.2" font-size="19.5" fill="#444" textLength="50" lengthAdjust="spacingAndGlyphs">FSC-A</text>
<text x="482" y="1026.8" font-size="15.2" fill="#333" textLength="51.5" lengthAdjust="spacingAndGlyphs">(x 1,000)</text>
<line x1="364.8" y1="726.9" x2="414.2" y2="726.9" stroke="#6f83c6" stroke-width="1.6" />
<line x1="364.8" y1="752.7" x2="414.2" y2="752.7" stroke="#f0505c" stroke-width="1.6" />
<line x1="364.8" y1="781.6" x2="414.2" y2="781.6" stroke="#3a3a3a" stroke-width="1.6" />
<text x="419.7" y="731.7" font-size="16.4" text-anchor="start" fill="#222" font-weight="normal" >Z021 (control)</text>
<text x="419.7" y="759.5" font-size="16.4" fill="#222">H01<tspan x="464.4">(△<tspan font-style="italic">cln3</tspan>)</tspan></text>
<text x="419.7" y="788" font-size="16.4" fill="#222">H02<tspan x="464.4">(<tspan font-style="italic">WHI5</tspan>)</tspan></text>
</g>
<defs>
<linearGradient id="fadeR" gradientUnits="userSpaceOnUse" x1="392" y1="0" x2="311" y2="0"><stop offset="0" stop-color="#2a1b1b"/><stop offset="0.35" stop-color="#2a1b1b"/><stop offset="1" stop-color="#2a1b1b" stop-opacity="0"/></linearGradient>
<radialGradient id="gSBF" cx="0.45" cy="0.4" r="0.7"><stop offset="0" stop-color="#9dbcf0"/><stop offset="1" stop-color="#86a8e6"/></radialGradient>
<radialGradient id="gWhi" cx="0.5" cy="0.45" r="0.7"><stop offset="0" stop-color="#5a7fd0"/><stop offset="1" stop-color="#4a6cbc"/></radialGradient>
<radialGradient id="gCD" cx="0.45" cy="0.45" r="0.7"><stop offset="0" stop-color="#e07a9a"/><stop offset="1" stop-color="#d46488"/></radialGradient>
</defs>
<g id="panelA_left">
<text x="53" y="95.7" font-size="41.5" text-anchor="start" fill="#121212" font-weight="normal" >A</text>
<path d="M281.5,48.8 L285.4,48.5 L289.4,48.3 L293.4,48.1 L297.4,47.9 L301.3,47.8 L305.3,47.7 L309.3,47.5 L313.3,47.5 L317.2,47.4 L321.2,47.3 L325.2,47.2 L329.1,47.2 L333.1,47.1 L337.1,47.1 L341.1,47.1 L345.0,47.1 L349.0,47.1 L353.0,47.1 L357.0,47.2 L361.0,47.3 L364.9,47.5 L368.9,47.7 L372.9,47.9 L376.9,48.3 L380.8,48.6 L384.8,49.1 L388.8,49.7 L392.7,50.3 L396.6,51.1 L400.5,52.0 L404.4,53.0 L408.2,54.2 L412.0,55.5 L415.7,56.9 L419.3,58.5 L422.9,60.3 L426.4,62.2 L429.8,64.3 L433.1,66.5 L436.3,68.9 L439.4,71.4 L442.4,74.1 L445.2,76.9 L447.9,79.9 L450.4,82.9 L452.8,86.2 L455.0,89.5 L457.0,92.9 L458.8,96.5 L460.4,100.2 L461.8,103.9 L463.0,107.7 L464.0,111.6 L464.7,115.5 L465.3,119.4 L465.6,123.4 L465.7,127.4 L465.7,131.4 L465.4,135.4 L465.0,139.4 L464.4,143.3 L463.7,147.3 L462.9,151.2 L462.0,155.1 L461.0,158.9 L459.9,162.8 L458.7,166.6 L457.5,170.4 L456.3,174.2 L455.0,177.9 L453.7,181.7 L452.3,185.5 L451.0,189.2 L449.6,192.9 L448.2,196.6 L446.7,200.3 L445.3,204.0 L443.8,207.7 L442.3,211.4 L440.9,215.1 L439.4,218.8 L437.9,222.5 L436.3,226.1 L434.8,229.8 L433.2,233.5 L431.5,237.1 L429.9,240.7 L428.2,244.3 L426.5,247.9 L424.9,251.5 L423.3,255.1 L421.7,258.7 L420.1,262.3 L418.6,266.0 L417.2,269.6 L415.7,273.3 L414.3,277.0 L412.9,280.7 L411.6,284.4 L410.3,288.1 L409.1,291.9 L407.9,295.6 L406.7,299.4 L405.6,303.2 L404.6,307.0 L403.7,310.8 L402.8,314.6 L402.0,318.5 L401.3,322.3 L400.7,326.2 L400.1,330.1 L399.7,333.9 L399.3,337.8 L399.1,341.7 L399.0,345.6 L399.0,349.5 L399.1,353.4 L399.3,357.3 L399.6,361.2 L400.1,365.0 L400.6,368.9 L401.2,372.7 L402.0,376.6 L402.8,380.4 L403.8,384.2 L404.8,387.9 L405.9,391.7 L407.1,395.4 L408.4,399.2 L409.7,402.9 L411.1,406.6 L412.5,410.3 L413.9,413.9 L415.4,417.6 L417.0,421.2 L418.6,424.8 L420.2,428.4 L421.9,432.0 L423.6,435.5 L425.3,439.1 L427.0,442.7 L428.7,446.3 L430.4,449.8 L432.1,453.4 L433.8,457.0 L435.5,460.7 L437.1,464.3 L438.7,467.9 L440.3,471.6 L441.9,475.2 L443.4,478.9 L444.9,482.6 L446.4,486.3 L447.9,490.0 L449.3,493.7 L450.7,497.4 L452.1,501.1 L453.5,504.9 L454.8,508.6 L456.0,512.4 L457.2,516.2 L458.3,520.1 L459.3,523.9 L460.2,527.8 L460.9,531.8 L461.5,535.7 L461.9,539.7 L462.2,543.7 L462.3,547.7 L462.2,551.7 L462.0,555.7 L461.5,559.7 L460.9,563.6 L460.1,567.5 L459.1,571.4 L458.0,575.2 L456.6,579.0 L455.1,582.7 L453.3,586.3 L451.4,589.8 L449.4,593.3 L447.2,596.6 L444.8,599.8 L442.2,602.9 L439.5,605.8 L436.7,608.6 L433.7,611.3 L430.7,613.9 L427.5,616.4 L424.3,618.7 L420.9,620.9 L417.5,623.0 L414.0,624.9 L410.5,626.8 L406.9,628.6 L403.3,630.2 L399.6,631.8 L395.9,633.3 L392.2,634.7 L388.4,636.1 L384.6,637.3 L380.8,638.5 L377.0,639.6 L373.1,640.7 L369.3,641.6 L365.4,642.5 L361.4,643.3 L357.5,644.0 L353.6,644.6 L349.6,645.2 L345.7,645.6 L341.7,646.0 L337.7,646.4 L333.7,646.7 L329.7,646.9 L325.8,647.0 L321.8,647.1 L317.8,647.2 L313.8,647.1 L309.8,647.0 L305.8,646.8 L301.8,646.6 L297.9,646.2 L293.9,645.7 L289.9,645.2 L286.0,644.6 L282.1,643.9 L278.2,643.1 L274.3,642.3 L270.4,641.4 L266.5,640.4 L262.6,639.4 L258.8,638.3 L255.0,637.0 L251.2,635.7 L247.5,634.3 L243.8,632.9 L240.1,631.3 L236.5,629.7 L232.8,628.0 L229.3,626.2 L225.7,624.4 L222.2,622.5 L218.8,620.4 L215.4,618.3 L212.0,616.2 L208.7,613.9 L205.5,611.7 L202.2,609.3 L199.0,606.9 L195.9,604.5 L192.8,602.0 L189.8,599.4 L186.8,596.6 L184.0,593.9 L181.2,591.0 L178.5,588.1 L175.9,585.1 L173.3,582.1 L170.7,579.0 L168.2,576.0 L165.7,572.8 L163.2,569.7 L160.8,566.5 L158.5,563.3 L156.2,560.0 L153.9,556.7 L151.7,553.4 L149.5,550.1 L147.4,546.7 L145.3,543.4 L143.2,540.0 L141.2,536.5 L139.2,533.1 L137.3,529.6 L135.4,526.0 L133.6,522.5 L131.8,518.9 L130.0,515.4 L128.3,511.8 L126.7,508.1 L125.1,504.5 L123.5,500.8 L122.1,497.1 L120.6,493.4 L119.3,489.6 L117.9,485.9 L116.6,482.1 L115.3,478.4 L114.1,474.6 L112.9,470.8 L111.7,467.0 L110.5,463.2 L109.4,459.4 L108.3,455.6 L107.2,451.7 L106.1,447.9 L105.1,444.0 L104.2,440.2 L103.3,436.3 L102.4,432.4 L101.6,428.5 L100.8,424.6 L100.0,420.7 L99.3,416.8 L98.5,412.9 L97.8,409.0 L97.2,405.1 L96.5,401.1 L95.9,397.2 L95.3,393.2 L94.8,389.3 L94.3,385.3 L93.9,381.4 L93.5,377.4 L93.1,373.5 L92.8,369.5 L92.5,365.5 L92.3,361.5 L92.2,357.5 L92.0,353.6 L92.0,349.6 L91.9,345.6 L91.9,341.6 L92.0,337.6 L92.1,333.6 L92.2,329.7 L92.5,325.7 L92.7,321.7 L93.0,317.7 L93.3,313.8 L93.7,309.8 L94.1,305.8 L94.5,301.9 L95.0,297.9 L95.5,294.0 L96.0,290.0 L96.6,286.1 L97.2,282.2 L97.9,278.2 L98.6,274.3 L99.3,270.4 L100.1,266.5 L100.9,262.6 L101.7,258.7 L102.6,254.8 L103.5,250.9 L104.4,247.1 L105.3,243.2 L106.2,239.3 L107.1,235.5 L108.0,231.6 L108.9,227.7 L109.8,223.9 L110.7,220.0 L111.7,216.2 L112.7,212.3 L113.8,208.5 L114.9,204.6 L116.0,200.8 L117.2,197.0 L118.4,193.2 L119.7,189.4 L121.1,185.7 L122.5,182.0 L123.9,178.2 L125.4,174.5 L126.9,170.9 L128.5,167.2 L130.2,163.6 L131.9,160.0 L133.6,156.4 L135.4,152.8 L137.2,149.3 L139.1,145.8 L141.1,142.3 L143.1,138.8 L145.2,135.4 L147.3,132.1 L149.5,128.7 L151.8,125.4 L154.1,122.2 L156.5,119.0 L158.9,115.8 L161.5,112.7 L164.0,109.7 L166.7,106.7 L169.4,103.7 L172.1,100.9 L174.9,98.0 L177.8,95.3 L180.7,92.5 L183.7,89.9 L186.8,87.3 L189.9,84.8 L193.1,82.4 L196.3,80.0 L199.6,77.8 L202.9,75.5 L206.3,73.4 L209.7,71.3 L213.1,69.3 L216.6,67.4 L220.2,65.5 L223.8,63.8 L227.4,62.1 L231.1,60.5 L234.8,59.1 L238.5,57.7 L242.3,56.4 L246.1,55.2 L250.0,54.1 L253.9,53.1 L257.7,52.3 L261.7,51.5 L265.6,50.8 L269.6,50.2 L273.5,49.7 L277.5,49.2Z" fill="#f3c6c4"/>
<path d="M223.7,129.5V131.5M226.1,127.2V133.8M228.6,127.1V133.9M231.0,129.4V131.6M233.5,129.6V131.4M235.9,127.2V133.8M238.4,127.1V133.9M240.8,129.3V131.7M243.3,129.6V131.4M245.7,127.2V133.8M248.2,127.1V133.9M250.6,129.2V131.8M253.1,129.7V131.3M255.5,127.2V133.8M258.0,127.0V134.0M260.4,129.2V131.8M265.3,127.3V133.7M267.8,127.0V134.0M270.2,129.1V131.9M275.1,127.3V133.7M277.6,127.0V134.0M280.0,129.1V131.9M284.9,127.3V133.7M287.4,127.0V134.0M289.8,129.0V132.0M294.7,127.4V133.6M297.2,126.9V134.1M299.6,128.9V132.1M304.5,127.4V133.6M307.0,126.9V134.1M309.4,128.9V132.1M314.3,127.4V133.6M316.8,126.9V134.1M319.2,128.8V132.2M324.1,127.5V133.5M326.6,126.9V134.1M329.0,128.8V132.2M333.9,127.5V133.5M336.4,126.9V134.1M338.8,128.7V132.3M343.7,127.5V133.5M346.2,126.9V134.1M348.6,128.7V132.3M353.5,127.6V133.4M356.0,126.9V134.1M358.4,128.6V132.4M363.3,127.6V133.4M365.8,126.8V134.2M368.2,128.5V132.5M373.1,127.7V133.3M375.6,126.8V134.2M378.0,128.5V132.5M382.9,127.7V133.3M385.4,126.8V134.2M387.8,128.4V132.6" stroke="#d9cfcf" stroke-width="1.1" fill="none"/>
<polyline points="222.5,130.50 223.3,129.41 224.1,128.40 224.9,127.52 225.7,126.83 226.5,126.39 227.3,126.20 228.1,126.30 228.9,126.67 229.7,127.28 230.5,128.11 231.3,129.09 232.1,130.16 232.9,131.25 233.7,132.29 234.5,133.22 235.3,133.97 236.1,134.50 236.9,134.77 237.7,134.76 238.5,134.48 239.3,133.93 240.1,133.17 240.9,132.23 241.7,131.18 242.5,130.09 243.3,129.02 244.1,128.05 244.9,127.24 245.7,126.64 246.5,126.29 247.3,126.21 248.1,126.41 248.9,126.87 249.7,127.57 250.5,128.46 251.3,129.48 252.1,130.57 252.9,131.65 253.7,132.66 254.5,133.53 255.3,134.20 256.1,134.63 256.9,134.80 257.7,134.69 258.5,134.30 259.3,133.67 260.1,132.84 260.9,131.85 261.7,130.77 262.5,129.68 263.3,128.64 264.1,127.72 264.9,126.99 265.7,126.47 266.5,126.22 267.3,126.25 268.1,126.55 268.9,127.11 269.7,127.88 270.5,128.83 271.3,129.88 272.1,130.98 272.9,132.04 273.7,133.01 274.5,133.81 275.3,134.39 276.1,134.73 276.9,134.79 277.7,134.57 278.5,134.09 279.3,133.38 280.1,132.48 280.9,131.45 281.7,130.36 282.5,129.28 283.3,128.28 284.1,127.42 284.9,126.76 285.7,126.35 286.5,126.20 287.3,126.33 288.1,126.73 288.9,127.38 289.7,128.22 290.5,129.22 291.3,130.29 292.1,131.39 292.9,132.42 293.7,133.33 294.5,134.05 295.3,134.55 296.1,134.78 296.9,134.74 297.7,134.42 298.5,133.85 299.3,133.06 300.1,132.11 300.9,131.05 301.7,129.95 302.5,128.89 303.3,127.94 304.1,127.15 304.9,126.58 305.7,126.26 306.5,126.22 307.3,126.45 308.1,126.95 308.9,127.67 309.7,128.58 310.5,129.61 311.3,130.71 312.1,131.78 312.9,132.78 313.7,133.62 314.5,134.27 315.3,134.67 316.1,134.80 316.9,134.65 317.7,134.24 318.5,133.58 319.3,132.72 320.1,131.72 320.9,130.64 321.7,129.55 322.5,128.52 323.3,127.62 324.1,126.91 324.9,126.43 325.7,126.21 326.5,126.27 327.3,126.61 328.1,127.19 328.9,127.99 329.7,128.96 330.5,130.02 331.3,131.12 332.1,132.17 332.9,133.12 333.7,133.89 334.5,134.45 335.3,134.75 336.1,134.78 336.9,134.53 337.7,134.01 338.5,133.28 339.3,132.36 340.1,131.32 340.9,130.23 341.7,129.15 342.5,128.16 343.3,127.33 344.1,126.70 344.9,126.31 345.7,126.20 346.5,126.37 347.3,126.80 348.1,127.47 348.9,128.34 349.7,129.35 350.5,130.43 351.3,131.52 352.1,132.54 352.9,133.43 353.7,134.13 354.5,134.59 355.3,134.79 356.1,134.71 356.9,134.36 357.7,133.76 358.5,132.95 359.3,131.98 360.1,130.91 360.9,129.82 361.7,128.77 362.5,127.83 363.3,127.07 364.1,126.52 364.9,126.24 365.7,126.23 366.5,126.50 367.3,127.03 368.1,127.78 368.9,128.71 369.7,129.75 370.5,130.84 371.3,131.91 372.1,132.89 372.9,133.72 373.7,134.33 374.5,134.70 375.3,134.80 376.1,134.61 376.9,134.17 377.7,133.48 378.5,132.60 379.3,131.59 380.1,130.50 380.9,129.41 381.7,128.40 382.5,127.52 383.3,126.83 384.1,126.39 384.9,126.20 385.7,126.30 386.5,126.67 387.3,127.28 388.1,128.11 388.9,129.09 389.7,130.16" fill="none" stroke="#9b8c8c" stroke-width="1.25"/>
<polyline points="222.5,130.50 223.3,131.59 224.1,132.60 224.9,133.48 225.7,134.17 226.5,134.61 227.3,134.80 228.1,134.70 228.9,134.33 229.7,133.72 230.5,132.89 231.3,131.91 232.1,130.84 232.9,129.75 233.7,128.71 234.5,127.78 235.3,127.03 236.1,126.50 236.9,126.23 237.7,126.24 238.5,126.52 239.3,127.07 240.1,127.83 240.9,128.77 241.7,129.82 242.5,130.91 243.3,131.98 244.1,132.95 244.9,133.76 245.7,134.36 246.5,134.71 247.3,134.79 248.1,134.59 248.9,134.13 249.7,133.43 250.5,132.54 251.3,131.52 252.1,130.43 252.9,129.35 253.7,128.34 254.5,127.47 255.3,126.80 256.1,126.37 256.9,126.20 257.7,126.31 258.5,126.70 259.3,127.33 260.1,128.16 260.9,129.15 261.7,130.23 262.5,131.32 263.3,132.36 264.1,133.28 264.9,134.01 265.7,134.53 266.5,134.78 267.3,134.75 268.1,134.45 268.9,133.89 269.7,133.12 270.5,132.17 271.3,131.12 272.1,130.02 272.9,128.96 273.7,127.99 274.5,127.19 275.3,126.61 276.1,126.27 276.9,126.21 277.7,126.43 278.5,126.91 279.3,127.62 280.1,128.52 280.9,129.55 281.7,130.64 282.5,131.72 283.3,132.72 284.1,133.58 284.9,134.24 285.7,134.65 286.5,134.80 287.3,134.67 288.1,134.27 288.9,133.62 289.7,132.78 290.5,131.78 291.3,130.71 292.1,129.61 292.9,128.58 293.7,127.67 294.5,126.95 295.3,126.45 296.1,126.22 296.9,126.26 297.7,126.58 298.5,127.15 299.3,127.94 300.1,128.89 300.9,129.95 301.7,131.05 302.5,132.11 303.3,133.06 304.1,133.85 304.9,134.42 305.7,134.74 306.5,134.78 307.3,134.55 308.1,134.05 308.9,133.33 309.7,132.42 310.5,131.39 311.3,130.29 312.1,129.22 312.9,128.22 313.7,127.38 314.5,126.73 315.3,126.33 316.1,126.20 316.9,126.35 317.7,126.76 318.5,127.42 319.3,128.28 320.1,129.28 320.9,130.36 321.7,131.45 322.5,132.48 323.3,133.38 324.1,134.09 324.9,134.57 325.7,134.79 326.5,134.73 327.3,134.39 328.1,133.81 328.9,133.01 329.7,132.04 330.5,130.98 331.3,129.88 332.1,128.83 332.9,127.88 333.7,127.11 334.5,126.55 335.3,126.25 336.1,126.22 336.9,126.47 337.7,126.99 338.5,127.72 339.3,128.64 340.1,129.68 340.9,130.77 341.7,131.85 342.5,132.84 343.3,133.67 344.1,134.30 344.9,134.69 345.7,134.80 346.5,134.63 347.3,134.20 348.1,133.53 348.9,132.66 349.7,131.65 350.5,130.57 351.3,129.48 352.1,128.46 352.9,127.57 353.7,126.87 354.5,126.41 355.3,126.21 356.1,126.29 356.9,126.64 357.7,127.24 358.5,128.05 359.3,129.02 360.1,130.09 360.9,131.18 361.7,132.23 362.5,133.17 363.3,133.93 364.1,134.48 364.9,134.76 365.7,134.77 366.5,134.50 367.3,133.97 368.1,133.22 368.9,132.29 369.7,131.25 370.5,130.16 371.3,129.09 372.1,128.11 372.9,127.28 373.7,126.67 374.5,126.30 375.3,126.20 376.1,126.39 376.9,126.83 377.7,127.52 378.5,128.40 379.3,129.41 380.1,130.50 380.9,131.59 381.7,132.60 382.5,133.48 383.3,134.17 384.1,134.61 384.9,134.80 385.7,134.70 386.5,134.33 387.3,133.72 388.1,132.89 388.9,131.91 389.7,130.84" fill="none" stroke="#5f5050" stroke-width="1.35"/>
<path d="M255.4,127 V99.1 H296" fill="none" stroke="#1f1416" stroke-width="2.8"/>
<path d="M294.9,92.2 L309.4,99.1 L294.9,106Z" fill="#1f1416"/>
<text x="324.4" y="106.6" font-size="19.6" text-anchor="start" fill="#1c1414" font-weight="normal" textLength="126.6" lengthAdjust="spacingAndGlyphs" stroke="#1c1414" stroke-width="0.3">G1/S Regulon</text>
<path d="M288.5,182.6 V158" stroke="#20161a" stroke-width="2.8" fill="none"/><path d="M281.8,158.9 L288.5,144.1 L295.2,158.9Z" fill="#20161a"/>
<path d="M235.8,200.0 Q235.2,194.7 240.5,193.7 Q248.1,187.5 256.3,192.9 Q265.2,188.4 273.6,193.7 Q281.5,189.7 289.4,193.7 Q297.1,193.2 295.7,200.8 Q296.1,194.4 302.0,196.8 Q308.6,195.3 311.5,201.5 Q320.8,201.7 320.9,211.0 Q326.4,217.3 320.9,223.6 Q327.2,225.2 325.7,231.5 Q326.4,237.3 320.9,239.4 Q316.6,247.2 308.3,244.1 Q306.4,249.6 302.0,245.7 Q304.2,251.7 298.9,255.2 Q299.3,263.5 291.0,263.1 Q287.1,269.0 281.5,264.6 Q278.7,270.8 272.0,269.4 Q264.7,274.0 261.0,266.2 Q253.3,268.9 250.0,261.5 Q243.3,260.4 243.7,253.6 Q237.9,248.6 238.9,241.0 Q235.9,232.6 243.7,228.4 Q236.2,224.2 237.4,215.7 Q232.7,208.3 235.8,200.0Z" fill="url(#gSBF)" stroke="#6f93da" stroke-width="1.4" stroke-linejoin="round"/>
<clipPath id="mSBF"><path d="M235.8,200.0 Q235.2,194.7 240.5,193.7 Q248.1,187.5 256.3,192.9 Q265.2,188.4 273.6,193.7 Q281.5,189.7 289.4,193.7 Q297.1,193.2 295.7,200.8 Q296.1,194.4 302.0,196.8 Q308.6,195.3 311.5,201.5 Q320.8,201.7 320.9,211.0 Q326.4,217.3 320.9,223.6 Q327.2,225.2 325.7,231.5 Q326.4,237.3 320.9,239.4 Q316.6,247.2 308.3,244.1 Q306.4,249.6 302.0,245.7 Q304.2,251.7 298.9,255.2 Q299.3,263.5 291.0,263.1 Q287.1,269.0 281.5,264.6 Q278.7,270.8 272.0,269.4 Q264.7,274.0 261.0,266.2 Q253.3,268.9 250.0,261.5 Q243.3,260.4 243.7,253.6 Q237.9,248.6 238.9,241.0 Q235.9,232.6 243.7,228.4 Q236.2,224.2 237.4,215.7 Q232.7,208.3 235.8,200.0Z"/></clipPath><g clip-path="url(#mSBF)"><ellipse cx="259.0" cy="234.0" rx="19.2" ry="16.0" fill="#6f95de" opacity="0.16"/><ellipse cx="288.3" cy="239.5" rx="15.2" ry="12.7" fill="#b4cbf5" opacity="0.16"/><ellipse cx="241.1" cy="253.9" rx="17.7" ry="14.8" fill="#6f95de" opacity="0.16"/><ellipse cx="258.7" cy="264.7" rx="20.5" ry="17.1" fill="#b4cbf5" opacity="0.16"/><ellipse cx="306.9" cy="229.4" rx="22.7" ry="18.9" fill="#6f95de" opacity="0.16"/><ellipse cx="252.0" cy="240.2" rx="25.7" ry="21.4" fill="#b4cbf5" opacity="0.16"/><ellipse cx="281.9" cy="247.4" rx="23.1" ry="19.3" fill="#6f95de" opacity="0.16"/><ellipse cx="245.1" cy="248.6" rx="22.1" ry="18.4" fill="#b4cbf5" opacity="0.16"/><ellipse cx="264.1" cy="199.1" rx="25.7" ry="21.4" fill="#6f95de" opacity="0.16"/></g>
<path d="M298,205 C296,214 300,222 297,232 S300,250 296,258" fill="none" stroke="#7d9fe2" stroke-width="1" opacity="0.7"/>
<text x="257.9" y="239.4" font-size="20.6" text-anchor="start" fill="#0d1630" font-weight="normal" textLength="36.2" lengthAdjust="spacingAndGlyphs" stroke="#0d1630" stroke-width="0.3">SBF</text>
<text x="102.6" y="294" font-size="19.6" text-anchor="start" fill="#d88e91" font-weight="bold" textLength="283.8" lengthAdjust="spacingAndGlyphs" >G1−S transcription factor SBF</text>
<path d="M347,222.6 V249" stroke="#2a1b1b" stroke-width="4.1" fill="none"/>
<path d="M347,235.5 H376.5 Q390.3,235.5 390.3,249.5 V325" fill="none" stroke="#2a1b1b" stroke-width="3.3"/>
<path d="M390.3,324 Q390.3,340 373,340.3 L311,341" fill="none" stroke="url(#fadeR)" stroke-width="3.3"/>
<path d="M195.0,322.0 Q200.6,317.2 208.0,317.5 Q216.3,313.8 224.0,318.5 Q231.6,314.0 240.0,316.5 Q248.3,314.4 256.0,318.0 Q263.7,313.0 272.0,317.0 Q279.5,315.1 285.0,320.5 Q291.1,322.7 292.5,329.0 Q297.9,333.9 294.0,340.0 Q297.0,346.2 292.0,351.0 Q290.3,357.2 284.0,358.5 Q277.5,362.4 270.0,361.0 Q261.7,364.7 254.0,360.0 Q247.5,364.5 240.0,362.0 Q231.7,364.1 224.0,360.5 Q216.3,365.5 208.0,361.5 Q200.7,362.8 196.0,357.0 Q190.2,355.1 189.0,349.0 Q183.6,344.7 187.5,339.0 Q184.6,333.2 189.5,329.0 Q189.6,323.4 195.0,322.0Z" fill="url(#gWhi)" stroke="#3f5eae" stroke-width="1.4" stroke-linejoin="round"/>
<clipPath id="mWhi"><path d="M195.0,322.0 Q200.6,317.2 208.0,317.5 Q216.3,313.8 224.0,318.5 Q231.6,314.0 240.0,316.5 Q248.3,314.4 256.0,318.0 Q263.7,313.0 272.0,317.0 Q279.5,315.1 285.0,320.5 Q291.1,322.7 292.5,329.0 Q297.9,333.9 294.0,340.0 Q297.0,346.2 292.0,351.0 Q290.3,357.2 284.0,358.5 Q277.5,362.4 270.0,361.0 Q261.7,364.7 254.0,360.0 Q247.5,364.5 240.0,362.0 Q231.7,364.1 224.0,360.5 Q216.3,365.5 208.0,361.5 Q200.7,362.8 196.0,357.0 Q190.2,355.1 189.0,349.0 Q183.6,344.7 187.5,339.0 Q184.6,333.2 189.5,329.0 Q189.6,323.4 195.0,322.0Z"/></clipPath><g clip-path="url(#mWhi)"><ellipse cx="214.8" cy="355.6" rx="8.5" ry="7.1" fill="#3d5cae" opacity="0.16"/><ellipse cx="260.7" cy="324.1" rx="9.3" ry="7.8" fill="#7794dc" opacity="0.16"/><ellipse cx="288.9" cy="328.5" rx="12.0" ry="10.0" fill="#3d5cae" opacity="0.16"/><ellipse cx="237.1" cy="337.3" rx="11.0" ry="9.2" fill="#7794dc" opacity="0.16"/><ellipse cx="211.5" cy="350.9" rx="8.2" ry="6.9" fill="#3d5cae" opacity="0.16"/><ellipse cx="215.5" cy="321.7" rx="9.4" ry="7.9" fill="#7794dc" opacity="0.16"/><ellipse cx="232.1" cy="353.5" rx="10.2" ry="8.5" fill="#3d5cae" opacity="0.16"/><ellipse cx="203.9" cy="330.3" rx="14.5" ry="12.0" fill="#7794dc" opacity="0.16"/><ellipse cx="199.1" cy="343.3" rx="10.2" ry="8.5" fill="#3d5cae" opacity="0.16"/></g>
<text x="226.3" y="346.6" font-size="20.5" text-anchor="start" fill="#0a1230" font-weight="normal" textLength="45" lengthAdjust="spacingAndGlyphs" stroke="#0a1230" stroke-width="0.3">Whi5</text>
<text x="175.6" y="386.2" font-size="19.6" text-anchor="start" fill="#d88e91" font-weight="bold" textLength="137.3" lengthAdjust="spacingAndGlyphs" >transcriptional</text>
<text x="175.6" y="410.4" font-size="19.6" text-anchor="start" fill="#d88e91" font-weight="bold" textLength="132.6" lengthAdjust="spacingAndGlyphs" >inhibitor Whi5</text>
<linearGradient id="fadeL" gradientUnits="userSpaceOnUse" x1="133" y1="0" x2="176" y2="0"><stop offset="0" stop-color="#2a1b1b"/><stop offset="0.4" stop-color="#2a1b1b"/><stop offset="1" stop-color="#2a1b1b" stop-opacity="0"/></linearGradient>
<path d="M168.3,332.6 V359.4" stroke="#2a1b1b" stroke-width="4.1" fill="none"/>
<path d="M168.3,346 H148 Q134.3,346 134.3,360 V453" fill="none" stroke="#2a1b1b" stroke-width="3.3"/>
<path d="M134.3,452 Q134.3,467.5 151,468.2 L176,468.6" fill="none" stroke="url(#fadeL)" stroke-width="3.3"/>
<path d="M261.4,414.1 Q272.1,415.2 281.9,419.8 Q292.3,420.2 300.8,426.1 Q308.8,430.7 313.4,438.7 Q316.2,444.8 315.0,451.4 Q313.6,459.3 307.1,464.0 Q300.0,472.1 290.0,476.0 Q280.8,482.0 270.0,484.0 Q260.9,490.1 250.0,490.0 Q241.5,494.2 232.0,493.0 Q224.8,494.8 218.0,492.0 Q211.3,491.2 206.0,487.0 Q200.1,485.5 198.3,479.7 Q193.2,474.9 192.5,468.0 Q190.3,463.1 192.0,458.0 Q192.4,450.2 198.3,445.0 Q200.3,438.6 206.2,435.6 Q213.3,430.5 222.0,429.3 Q228.4,422.5 237.7,421.4 Q242.9,416.2 250.3,416.0 Q255.5,412.8 261.4,414.1Z" fill="#f4b9b3" stroke="#d4868a" stroke-width="1.5" stroke-linejoin="round"/>
<clipPath id="mCln"><path d="M261.4,414.1 Q272.1,415.2 281.9,419.8 Q292.3,420.2 300.8,426.1 Q308.8,430.7 313.4,438.7 Q316.2,444.8 315.0,451.4 Q313.6,459.3 307.1,464.0 Q300.0,472.1 290.0,476.0 Q280.8,482.0 270.0,484.0 Q260.9,490.1 250.0,490.0 Q241.5,494.2 232.0,493.0 Q224.8,494.8 218.0,492.0 Q211.3,491.2 206.0,487.0 Q200.1,485.5 198.3,479.7 Q193.2,474.9 192.5,468.0 Q190.3,463.1 192.0,458.0 Q192.4,450.2 198.3,445.0 Q200.3,438.6 206.2,435.6 Q213.3,430.5 222.0,429.3 Q228.4,422.5 237.7,421.4 Q242.9,416.2 250.3,416.0 Q255.5,412.8 261.4,414.1Z"/></clipPath><g clip-path="url(#mCln)"><ellipse cx="266.5" cy="468.4" rx="24.7" ry="20.6" fill="#eda59f" opacity="0.16"/><ellipse cx="301.7" cy="468.3" rx="26.4" ry="22.0" fill="#fbd0ca" opacity="0.16"/><ellipse cx="201.2" cy="449.7" rx="26.7" ry="22.2" fill="#eda59f" opacity="0.16"/><ellipse cx="269.4" cy="479.3" rx="15.8" ry="13.2" fill="#fbd0ca" opacity="0.16"/><ellipse cx="249.6" cy="434.8" rx="21.5" ry="17.9" fill="#eda59f" opacity="0.16"/><ellipse cx="261.1" cy="418.9" rx="17.2" ry="14.3" fill="#fbd0ca" opacity="0.16"/><ellipse cx="228.7" cy="480.3" rx="24.4" ry="20.3" fill="#eda59f" opacity="0.16"/><ellipse cx="215.6" cy="472.2" rx="16.2" ry="13.5" fill="#fbd0ca" opacity="0.16"/><ellipse cx="265.9" cy="426.6" rx="14.4" ry="12.0" fill="#eda59f" opacity="0.16"/></g>
<text x="232" y="452.2" font-size="20.5" text-anchor="start" fill="#1a0c0c" font-weight="normal" textLength="40.5" lengthAdjust="spacingAndGlyphs" stroke="#1a0c0c" stroke-width="0.3">Cln3</text>
<path d="M215.6,489.2 Q219.8,480.7 228.3,476.6 Q233.6,467.6 244.0,467.1 Q252.2,460.0 263.0,460.8 Q269.9,455.2 278.7,456.1 Q288.1,453.5 294.5,460.8 Q303.9,464.0 307.1,473.4 Q315.6,475.3 319.7,482.9 Q329.1,488.0 329.2,498.7 Q333.9,506.5 329.2,514.4 Q327.8,524.3 319.7,530.2 Q319.3,537.9 313.4,542.8 Q311.0,553.8 300.8,558.6 Q292.9,566.4 281.9,566.5 Q271.6,567.4 263.0,561.8 Q251.9,563.6 244.0,555.5 Q233.4,552.6 228.3,542.8 Q220.3,535.0 218.8,523.9 Q211.2,517.6 214.0,508.1 Q210.2,498.3 215.6,489.2Z" fill="url(#gCD)" stroke="#b54a72" stroke-width="1.5" stroke-linejoin="round"/>
<clipPath id="mCD"><path d="M215.6,489.2 Q219.8,480.7 228.3,476.6 Q233.6,467.6 244.0,467.1 Q252.2,460.0 263.0,460.8 Q269.9,455.2 278.7,456.1 Q288.1,453.5 294.5,460.8 Q303.9,464.0 307.1,473.4 Q315.6,475.3 319.7,482.9 Q329.1,488.0 329.2,498.7 Q333.9,506.5 329.2,514.4 Q327.8,524.3 319.7,530.2 Q319.3,537.9 313.4,542.8 Q311.0,553.8 300.8,558.6 Q292.9,566.4 281.9,566.5 Q271.6,567.4 263.0,561.8 Q251.9,563.6 244.0,555.5 Q233.4,552.6 228.3,542.8 Q220.3,535.0 218.8,523.9 Q211.2,517.6 214.0,508.1 Q210.2,498.3 215.6,489.2Z"/></clipPath><g clip-path="url(#mCD)"><ellipse cx="269.4" cy="527.1" rx="32.6" ry="27.1" fill="#c4547c" opacity="0.16"/><ellipse cx="234.8" cy="465.0" rx="27.2" ry="22.7" fill="#e88aa6" opacity="0.16"/><ellipse cx="248.5" cy="541.8" rx="33.0" ry="27.5" fill="#c4547c" opacity="0.16"/><ellipse cx="282.6" cy="517.6" rx="32.5" ry="27.1" fill="#e88aa6" opacity="0.16"/><ellipse cx="235.1" cy="506.2" rx="23.3" ry="19.4" fill="#c4547c" opacity="0.16"/><ellipse cx="314.2" cy="469.6" rx="35.4" ry="29.5" fill="#e88aa6" opacity="0.16"/><ellipse cx="227.8" cy="529.9" rx="26.5" ry="22.1" fill="#c4547c" opacity="0.16"/><ellipse cx="262.1" cy="544.9" rx="20.6" ry="17.2" fill="#e88aa6" opacity="0.16"/><ellipse cx="226.3" cy="551.8" rx="29.7" ry="24.7" fill="#c4547c" opacity="0.16"/><ellipse cx="229.5" cy="558.8" rx="37.7" ry="31.4" fill="#e88aa6" opacity="0.16"/><ellipse cx="231.7" cy="504.6" rx="22.8" ry="19.0" fill="#c4547c" opacity="0.16"/></g>
<text x="247.8" y="522.5" font-size="20.5" text-anchor="start" fill="#1a0810" font-weight="normal" textLength="36" lengthAdjust="spacingAndGlyphs" stroke="#1a0810" stroke-width="0.3">CD1</text>
<text x="227.5" y="586.8" font-size="19.8" text-anchor="start" fill="#d88e91" font-weight="bold" textLength="174.2" lengthAdjust="spacingAndGlyphs" >Cln3-Cdk1 activity</text>
<text x="218.2" y="611.2" font-size="19.8" text-anchor="start" fill="#d88e91" font-weight="bold" textLength="193" lengthAdjust="spacingAndGlyphs" >is growth dependent</text>
</g>
<defs>
<linearGradient id="gG1" gradientUnits="userSpaceOnUse" x1="0" y1="190" x2="0" y2="510"><stop offset="0" stop-color="#f39698"/><stop offset="0.75" stop-color="#f39c9e"/><stop offset="1" stop-color="#f5b4b5"/></linearGradient>
<linearGradient id="gG1b" gradientUnits="userSpaceOnUse" x1="0" y1="240" x2="0" y2="450"><stop offset="0" stop-color="#f39496"/><stop offset="1" stop-color="#f4a5a6"/></linearGradient>
<linearGradient id="gS" gradientUnits="userSpaceOnUse" x1="640" y1="190" x2="820" y2="320"><stop offset="0" stop-color="#edd7e8"/><stop offset="1" stop-color="#e6cce3"/></linearGradient>
<linearGradient id="gG2" gradientUnits="userSpaceOnUse" x1="0" y1="320" x2="0" y2="460"><stop offset="0" stop-color="#e8bfda"/><stop offset="1" stop-color="#e2a6c8"/></linearGradient>
<linearGradient id="gM" gradientUnits="userSpaceOnUse" x1="790" y1="0" x2="580" y2="0"><stop offset="0" stop-color="#e8aec6"/><stop offset="0.2" stop-color="#f0b0bd"/><stop offset="0.5" stop-color="#f4b4ba"/><stop offset="1" stop-color="#f7c5c6"/></linearGradient>
</defs>
<g id="panelA_mid">
<path d="M476.4,51.2 L611.8,168.3" stroke="#d2d2d2" stroke-width="2.3" stroke-dasharray="3.6 5.8" fill="none"/>
<path d="M596.2,501.3 L462.1,651.1" stroke="#d2d2d2" stroke-width="2.3" stroke-dasharray="3.6 5.8" fill="none"/>
<path d="M621.1,504.5 L612.9,502.1 L604.9,499.2 L597.1,496.0 L589.5,492.3 L582.0,488.3 L574.8,483.9 L567.8,479.1 L561.1,473.9 L554.6,468.4 L548.4,462.6 L542.6,456.4 L537.1,449.9 L531.9,443.2 L527.1,436.2 L522.7,429.0 L518.7,421.5 L515.0,413.9 L511.8,406.1 L508.9,398.1 L506.5,389.9 L504.5,381.7 L503.0,373.3 L501.9,364.9 L501.2,356.5 L501.0,348.0 L501.2,339.5 L501.9,331.1 L503.0,322.7 L504.5,314.3 L506.5,306.1 L508.9,297.9 L511.8,289.9 L515.0,282.1 L518.7,274.5 L522.7,267.0 L527.1,259.8 L531.9,252.8 L537.1,246.1 L542.6,239.6 L548.4,233.4 L554.6,227.6 L561.1,222.1 L567.8,216.9 L574.8,212.1 L582.0,207.7 L583.2,207.0 L582.3,196.1 L628.0,202.4 L596.8,237.9 L595.3,228.3 L589.1,232.0 L583.2,236.1 L577.4,240.4 L571.9,245.0 L566.6,249.9 L561.6,255.1 L556.9,260.5 L552.5,266.2 L548.3,272.1 L544.5,278.2 L541.0,284.5 L537.9,291.0 L535.1,297.6 L532.6,304.4 L530.5,311.3 L528.8,318.2 L527.4,325.3 L526.4,332.4 L525.8,339.6 L525.5,346.8 L525.6,354.0 L526.1,361.2 L527.0,368.3 L528.3,375.4 L529.9,382.4 L531.9,389.3 L534.2,396.2 L536.9,402.8 L539.9,409.4 L543.3,415.7 L547.0,421.9 L551.1,427.8 L555.4,433.6 L560.0,439.1 L564.9,444.4 L570.1,449.4 L575.5,454.1 L581.2,458.5 L587.1,462.7 L593.2,466.5 L599.5,470.0 L606.0,473.1 L612.6,475.9 L619.4,478.4 L626.3,480.5 L627.4,480.8Z" fill="url(#gG1)"/>
<path d="M599.0,442.9 L594.1,439.4 L589.4,435.7 L584.9,431.7 L580.6,427.5 L576.6,423.1 L572.8,418.5 L569.2,413.7 L565.9,408.7 L562.9,403.5 L560.1,398.2 L557.6,392.7 L555.4,387.2 L553.5,381.5 L551.9,375.7 L550.6,369.8 L549.6,363.9 L548.9,358.0 L548.6,352.0 L548.5,346.0 L548.8,340.0 L549.4,334.0 L550.2,328.1 L551.4,322.2 L552.9,316.4 L554.7,310.7 L556.8,305.1 L559.2,299.6 L561.9,294.2 L564.9,289.0 L568.1,284.0 L571.6,279.1 L575.3,274.4 L579.3,269.9 L583.5,265.6 L587.9,261.6 L592.5,257.8 L597.3,254.2 L602.3,250.9 L603.5,250.2 L604.9,242.4 L642.5,254.2 L616.5,278.6 L615.5,269.8 L611.4,272.4 L607.6,275.2 L603.8,278.2 L600.2,281.4 L596.8,284.8 L593.6,288.3 L590.6,292.0 L587.8,295.9 L585.2,299.9 L582.7,304.1 L580.6,308.3 L578.6,312.7 L576.9,317.2 L575.4,321.7 L574.1,326.3 L573.1,331.0 L572.3,335.7 L571.8,340.5 L571.5,345.3 L571.5,350.1 L571.8,354.9 L572.2,359.6 L573.0,364.4 L574.0,369.0 L575.2,373.7 L576.6,378.2 L578.3,382.7 L580.3,387.1 L582.4,391.4 L584.8,395.5 L587.4,399.6 L590.2,403.4 L593.2,407.2 L596.4,410.8 L599.8,414.2 L603.3,417.4 L607.0,420.4 L610.9,423.2 L611.8,423.9Z" fill="url(#gG1b)"/>
<path d="M614.1,412.0 L611.5,407.9 L609.1,403.8 L606.9,399.5 L604.9,395.1 L603.2,390.6 L601.7,386.0 L600.5,381.3 L599.5,376.6 L598.8,371.8 L598.3,367.1 L598.0,362.2 L598.0,357.4 L598.3,352.6 L598.8,347.8 L599.6,343.1 L600.6,338.4 L601.8,333.7 L603.3,329.1 L605.1,324.6 L607.0,320.2 L609.2,316.0 L611.6,311.8 L614.3,307.8 L617.1,303.9 L620.1,300.1 L623.4,296.6 L625.5,294.4 L624.4,287.2 L656.9,285.5 L639.5,312.9 L640.2,309.4 L637.7,312.0 L635.2,314.8 L632.9,317.8 L630.8,320.8 L628.8,324.0 L627.0,327.2 L625.4,330.6 L623.9,334.0 L622.7,337.5 L621.6,341.0 L620.7,344.6 L620.0,348.3 L619.5,352.0 L619.1,355.7 L619.0,359.4 L619.1,363.1 L619.3,366.8 L619.8,370.5 L620.4,374.2 L621.3,377.8 L622.3,381.4 L623.5,384.9 L624.9,388.3 L626.5,391.7 L628.2,395.0 L630.1,398.1 L631.4,400.1Z" fill="url(#gG1b)"/>
<path d="M802.7,432.0 L798.1,439.1 L793.2,446.1 L787.9,452.8 L782.2,459.2 L776.2,465.3 L769.9,471.0 L763.4,476.4 L756.5,481.5 L749.4,486.2 L742.0,490.6 L734.5,494.5 L726.7,498.0 L718.7,501.2 L710.7,503.9 L702.4,506.2 L694.1,508.0 L685.7,509.4 L677.2,510.4 L668.7,510.9 L660.2,511.0 L651.6,510.6 L643.1,509.8 L634.7,508.5 L626.3,506.8 L618.1,504.7 L609.5,517.8 L583.5,475.2 L629.9,475.8 L625.2,479.7 L632.2,481.5 L639.2,482.9 L646.3,484.0 L653.4,484.7 L660.6,485.0 L667.8,484.9 L674.9,484.5 L682.1,483.7 L689.1,482.5 L696.1,480.9 L703.1,479.0 L709.9,476.7 L716.5,474.1 L723.1,471.1 L729.4,467.8 L735.6,464.2 L741.6,460.2 L747.3,456.0 L752.9,451.4 L758.2,446.5 L763.2,441.4 L767.9,436.1 L772.4,430.4 L776.6,424.6 L780.4,418.6Z" fill="url(#gM)"/>
<path d="M813.3,290.3 L816.1,298.2 L818.5,306.3 L820.5,314.5 L822.0,322.8 L823.1,331.2 L823.8,339.6 L824.0,348.0 L823.8,356.4 L823.1,364.8 L822.0,373.2 L820.5,381.5 L818.5,389.7 L816.1,397.8 L813.3,405.7 L810.1,413.5 L806.5,421.1 L802.4,428.5 L811.3,437.1 L766.7,453.6 L776.7,411.0 L779.9,415.5 L783.3,409.3 L786.3,402.9 L789.0,396.4 L791.4,389.7 L793.4,382.9 L795.0,376.1 L796.3,369.1 L797.3,362.1 L797.8,355.1 L798.0,348.0 L797.8,340.9 L797.3,333.9 L796.3,326.9 L795.0,319.9 L793.4,313.1 L791.4,306.3 L789.0,299.6Z" fill="url(#gG2)"/>
<path d="M629.2,189.1 L637.6,187.5 L646.0,186.4 L654.5,185.7 L663.0,185.5 L671.5,185.7 L680.0,186.4 L688.4,187.5 L696.8,189.1 L705.1,191.0 L713.2,193.5 L721.2,196.3 L729.1,199.5 L736.8,203.2 L744.2,207.3 L751.5,211.7 L758.5,216.5 L765.3,221.7 L771.7,227.2 L777.9,233.1 L783.8,239.3 L789.3,245.7 L794.5,252.5 L799.3,259.5 L803.7,266.8 L807.8,274.2 L811.5,281.9 L813.7,287.1 L825.5,287.2 L813.5,326.8 L783.6,295.6 L794.2,295.0 L791.2,288.2 L787.9,281.6 L784.3,275.1 L780.3,268.9 L776.0,262.8 L771.4,257.0 L766.5,251.5 L761.3,246.2 L755.8,241.2 L750.1,236.5 L744.2,232.1 L738.0,228.0 L731.6,224.2 L725.0,220.8 L718.3,217.7 L711.4,215.0 L704.4,212.7 L697.2,210.7 L690.0,209.1 L682.7,207.9 L675.3,207.0 L667.9,206.6 L660.5,206.5 L653.1,206.8 L645.8,207.6 L638.4,208.6 L633.6,209.6Z" fill="url(#gS)"/>
<path d="M630.8,152.2 L622.5,186.9 L635.2,218.6" fill="none" stroke="#86192c" stroke-width="3.8" stroke-linejoin="miter"/>
<text x="623.5" y="143.5" font-size="23" text-anchor="start" fill="#86192c" font-weight="normal" textLength="216" lengthAdjust="spacingAndGlyphs" stroke="#86192c" stroke-width="0.3">Start ( Size control )</text>
<text x="500.5" y="344" font-size="20.5" text-anchor="start" fill="#1c1216" font-weight="normal" textLength="26.5" lengthAdjust="spacingAndGlyphs" stroke="#1c1216" stroke-width="0.35">G1</text>
<text x="746.6" y="234.7" font-size="20.5" text-anchor="start" fill="#1c1216" font-weight="normal" textLength="14.2" lengthAdjust="spacingAndGlyphs" stroke="#1c1216" stroke-width="0.35">S</text>
<text x="798.6" y="380.4" font-size="20.5" text-anchor="start" fill="#1c1216" font-weight="normal" textLength="30" lengthAdjust="spacingAndGlyphs" stroke="#1c1216" stroke-width="0.35">G2</text>
<text x="701.8" y="502" font-size="20.5" text-anchor="start" fill="#1c1216" font-weight="normal" textLength="19.5" lengthAdjust="spacingAndGlyphs" stroke="#1c1216" stroke-width="0.35">M</text>
<rect x="673" y="321" width="64" height="57" fill="#fff" stroke="#121212" stroke-width="1.5"/>
<path d="M673,378 C701,371 727,355 737,321" fill="none" stroke="#121212" stroke-width="1.7"/>
<text x="673" y="315.8" font-size="17.6" text-anchor="start" fill="#1c1216" font-weight="normal" textLength="61" lengthAdjust="spacingAndGlyphs" stroke="#1c1216" stroke-width="0.3">Growth</text>
<text x="739" y="356.8" font-size="17.6" text-anchor="start" fill="#1c1216" font-weight="normal" textLength="35" lengthAdjust="spacingAndGlyphs" stroke="#1c1216" stroke-width="0.3">Size</text>
<text x="671" y="396.8" font-size="17.6" text-anchor="start" fill="#1c1216" font-weight="normal" textLength="71" lengthAdjust="spacingAndGlyphs" stroke="#1c1216" stroke-width="0.3">G1 Time</text>
<circle cx="568.7" cy="166.6" r="21" fill="#fff" stroke="#111" stroke-width="3"/>
<circle cx="647.8" cy="404.7" r="17.8" fill="#fff" stroke="#111" stroke-width="3"/>
<circle cx="631.4" cy="456" r="13" fill="#fff" stroke="#111" stroke-width="3"/>
<circle cx="568.5" cy="506" r="11.4" fill="#fff" stroke="#111" stroke-width="3"/>
<circle cx="603.7" cy="590.3" r="24" fill="#fff" stroke="#111" stroke-width="3"/>
<circle cx="710.8" cy="546.9" r="23.3" fill="#fff" stroke="#111" stroke-width="3"/>
<circle cx="675.1" cy="554.8" r="10.9" fill="#fff" stroke="#111" stroke-width="3"/>
<path d="M842.48,283.88 A20.2,20.2 0 1 1 856.71,273.53 A12,12 0 1 1 842.48,283.88Z" fill="#fff" stroke="#111" stroke-width="2.8" stroke-linejoin="round"/>
<path d="M643.8,549.2 Q615,546 596,534.5" fill="none" stroke="#111" stroke-width="2.9"/><path d="M584.2,527.6 L600.4,528 L592.3,540.6Z" fill="#111"/>
<path d="M695.7,572.9 Q671,587 648,590" fill="none" stroke="#111" stroke-width="2.9"/><path d="M635.5,590.7 L649.2,583.4 L650,596.8Z" fill="#111"/>
</g>
<defs>
<linearGradient id="pinkfade" x1="0" y1="0" x2="0" y2="1"><stop offset="0" stop-color="#fdefef" stop-opacity="0.2"/><stop offset="0.09" stop-color="#fdefef"/><stop offset="1" stop-color="#fdeeee"/></linearGradient>
<radialGradient id="lipoS"><stop offset="0" stop-color="#fcecbe"/><stop offset="0.68" stop-color="#fbe7b2"/><stop offset="0.9" stop-color="#f6d78c"/><stop offset="1" stop-color="#f7dc98" stop-opacity="0.25"/></radialGradient>
<radialGradient id="lipoA"><stop offset="0" stop-color="#fdf6d8"/><stop offset="0.62" stop-color="#fcefc0"/><stop offset="0.86" stop-color="#f6d883"/><stop offset="0.95" stop-color="#f3cf74"/><stop offset="1" stop-color="#f6dc9a" stop-opacity="0.5"/></radialGradient>
<radialGradient id="lipoB"><stop offset="0" stop-color="#fdf5d6"/><stop offset="0.66" stop-color="#fbecbb"/><stop offset="0.86" stop-color="#f6d585"/><stop offset="0.95" stop-color="#f1bf6c"/><stop offset="1" stop-color="#f4c888" stop-opacity="0.5"/></radialGradient>
<linearGradient id="tagG1" x1="0" y1="0" x2="0" y2="1"><stop offset="0" stop-color="#f6b9b9"/><stop offset="1" stop-color="#f08f92"/></linearGradient>
<linearGradient id="tagG2M" x1="0" y1="0" x2="1" y2="0"><stop offset="0" stop-color="#ecd0da"/><stop offset="1" stop-color="#efc4cb"/></linearGradient>
</defs>
<g id="boxTop">
<clipPath id="boxTopc"><rect x="895.5" y="48" width="249.0999999999999" height="281.6" rx="9"/></clipPath>
<g clip-path="url(#boxTopc)"><rect x="895.5" y="48" width="249.0999999999999" height="281.6" fill="#fffdfd"/><rect x="895.5" y="183" width="249.0999999999999" height="146.60000000000002" fill="url(#pinkfade)"/></g>
<rect x="895.5" y="48" width="249.0999999999999" height="281.6" rx="9" fill="none" stroke="#4a4646" stroke-width="1.7"/>
<text x="933.7" y="74" font-size="19" text-anchor="start" fill="#781b2d" font-weight="normal" textLength="167" lengthAdjust="spacingAndGlyphs" stroke="#781b2d" stroke-width="0.3">Lipophilic products</text>
<text x="933.7" y="98.4" font-size="19" text-anchor="start" fill="#781b2d" font-weight="normal" textLength="62" lengthAdjust="spacingAndGlyphs" stroke="#781b2d" stroke-width="0.3">Protein</text>
<text x="933.7" y="119.6" font-size="19" text-anchor="start" fill="#781b2d" font-weight="normal" textLength="86.5" lengthAdjust="spacingAndGlyphs" stroke="#781b2d" stroke-width="0.3">Liposome</text>
<text x="933.7" y="139.6" font-size="19" text-anchor="start" fill="#781b2d" font-weight="normal" textLength="72.2" lengthAdjust="spacingAndGlyphs" stroke="#781b2d" stroke-width="0.3">Cell size</text>
<path d="M908.5,61.2 L910.8,65.4 L906.2,65.4Z" fill="#a9a3a3" stroke="#9a9494" stroke-width="0.9" stroke-linejoin="round"/>
<path d="M917.5,58.1 L919.7,62.1 L915.3,62.1Z" fill="none" stroke="#8b7d78" stroke-width="0.9" stroke-linejoin="round"/>
<path d="M917.7,66.5 L919.9,70.5 L915.5,70.5Z" fill="none" stroke="#8b7d78" stroke-width="0.9" stroke-linejoin="round"/>
<path d="M911.5,71.5 L913.7,75.5 L909.3,75.5Z" fill="none" stroke="#8b7d78" stroke-width="0.9" stroke-linejoin="round"/>
<circle cx="911.8" cy="87.5" r="0.8" fill="#c9c4c6"/>
<circle cx="918.7" cy="86.7" r="0.8" fill="#c9c4c6"/>
<circle cx="916.3" cy="89.7" r="0.8" fill="#c9c4c6"/>
<circle cx="906.2" cy="91.1" r="0.8" fill="#c9c4c6"/>
<circle cx="905.8" cy="90.3" r="0.8" fill="#c9c4c6"/>
<circle cx="906.5" cy="86.9" r="0.8" fill="#c9c4c6"/>
<circle cx="913.9" cy="94.3" r="0.8" fill="#c9c4c6"/>
<circle cx="907.6" cy="88.2" r="0.8" fill="#c9c4c6"/>
<circle cx="918.2" cy="95.5" r="0.8" fill="#c9c4c6"/>
<circle cx="917.1" cy="90.0" r="0.8" fill="#c9c4c6"/>
<circle cx="925.5" cy="86.5" r="0.8" fill="#c9c4c6"/>
<circle cx="923.0" cy="88.9" r="0.8" fill="#c9c4c6"/>
<circle cx="908.0" cy="87.2" r="0.8" fill="#c9c4c6"/>
<circle cx="913.2" cy="113.4" r="10.2" fill="url(#lipoS)"/>
<path d="M910.5,131.5 Q916.5,127.5 925.0,129.0 Q923.5,136.5 918.5,140.5 Q912.5,142.0 908.5,139.5 Q908.0,134.5 910.5,131.5Z" fill="#fdfbfb" stroke="#dcd8d8" stroke-width="1.1"/>
<path d="M1047.10,130.06 A36.5,36.5 0 1 1 1058.84,149.62 A17.4,17.4 0 1 1 1047.10,130.06Z" fill="#fffdfd" stroke="#2b2727" stroke-width="1.6" stroke-linejoin="round"/>
<circle cx="1084.8" cy="113.8" r="24.5" fill="#fde9e2" opacity="0.8"/>
<circle cx="1084.8" cy="113.8" r="22" fill="url(#lipoA)"/>
<path d="M1078.6,111.1 L1081.7,116.6 L1075.5,116.6Z" fill="none" stroke="#7f746c" stroke-width="1.0" stroke-linejoin="round"/>
<path d="M1090.9,106.5 L1094.0,112.0 L1087.8,112.0Z" fill="none" stroke="#7f746c" stroke-width="1.0" stroke-linejoin="round"/>
<path d="M1090.9,117.2 L1094.0,122.7 L1087.8,122.7Z" fill="none" stroke="#7f746c" stroke-width="1.0" stroke-linejoin="round"/>
<path d="M1082.7,124.3 L1085.8,129.8 L1079.6,129.8Z" fill="none" stroke="#7f746c" stroke-width="1.0" stroke-linejoin="round"/>
<circle cx="1069.4" cy="145.2" r="1.05" fill="#b3adb0"/>
<circle cx="1069.3" cy="151.8" r="1.05" fill="#b3adb0"/>
<circle cx="1050.5" cy="144.9" r="1.05" fill="#b3adb0"/>
<circle cx="1077.4" cy="141.0" r="1.05" fill="#b3adb0"/>
<circle cx="1065.8" cy="141.0" r="1.05" fill="#b3adb0"/>
<circle cx="1056.6" cy="130.3" r="1.05" fill="#b3adb0"/>
<circle cx="1063.6" cy="131.9" r="1.05" fill="#b3adb0"/>
<circle cx="1072.4" cy="144.6" r="1.05" fill="#b3adb0"/>
<circle cx="1069.5" cy="144.3" r="1.05" fill="#b3adb0"/>
<circle cx="1059.3" cy="136.2" r="1.05" fill="#b3adb0"/>
<circle cx="1079.6" cy="146.7" r="1.05" fill="#b3adb0"/>
<circle cx="1066.4" cy="144.4" r="1.05" fill="#b3adb0"/>
<circle cx="1061.7" cy="136.1" r="1.05" fill="#b3adb0"/>
<circle cx="1075.3" cy="145.6" r="1.05" fill="#b3adb0"/>
<circle cx="1063.5" cy="136.1" r="1.05" fill="#b3adb0"/>
<circle cx="1062.4" cy="138.0" r="1.05" fill="#b3adb0"/>
<path d="M1052.9,284.7 L1051.2,288.0 L1049.3,291.2 L1047.2,294.3 L1044.8,297.2 L1042.3,299.9 L1039.6,302.4 L1036.7,304.8 L1033.6,306.9 L1030.4,308.8 L1027.1,310.5 L1023.7,312.0 L1020.2,313.2 L1016.6,314.1 L1012.9,314.8 L1009.2,315.3 L1005.5,315.5 L1001.8,315.4 L999.0,315.2 L997.9,316.6 L984.6,299.8 L1001.9,292.9 L1001.3,293.8 L1003.5,294.0 L1005.7,294.0 L1007.9,293.8 L1010.1,293.5 L1012.3,293.1 L1014.4,292.4 L1016.5,291.7 L1018.5,290.8 L1020.5,289.7 L1022.4,288.6 L1024.2,287.3 L1025.9,285.8 L1027.5,284.3 L1029.0,282.6 L1030.3,280.9 L1031.6,279.1 L1032.7,277.1 L1033.4,275.6Z" fill="#ecc2c7"/>
<path d="M1052.9,239.7 L1054.4,243.1 L1055.6,246.6 L1056.5,250.2 L1057.2,253.9 L1057.7,257.6 L1057.9,261.3 L1057.8,265.0 L1057.5,268.7 L1056.9,272.4 L1056.1,276.0 L1055.6,277.8 L1056.7,279.1 L1037.2,289.6 L1034.2,270.7 L1035.0,271.5 L1035.6,269.4 L1036.0,267.2 L1036.3,265.0 L1036.4,262.8 L1036.4,260.5 L1036.2,258.3 L1035.8,256.1 L1035.3,254.0 L1034.7,251.8 L1033.9,249.8 L1033.4,248.8Z" fill="#e1b8d3"/>
<path d="M969.6,222.0 L972.5,219.6 L975.6,217.5 L978.8,215.6 L982.1,213.9 L985.5,212.4 L989.0,211.2 L992.6,210.3 L996.3,209.6 L1000.0,209.1 L1003.7,208.9 L1007.4,209.0 L1011.1,209.3 L1014.8,209.9 L1018.4,210.7 L1022.0,211.8 L1025.4,213.1 L1028.8,214.7 L1032.1,216.5 L1035.2,218.5 L1038.1,220.8 L1041.0,223.2 L1043.6,225.8 L1046.0,228.7 L1047.2,230.1 L1048.1,230.6 L1046.2,253.4 L1028.9,243.2 L1030.0,243.1 L1028.6,241.3 L1027.1,239.7 L1025.5,238.2 L1023.7,236.8 L1021.9,235.5 L1020.0,234.4 L1018.0,233.4 L1016.0,232.5 L1013.9,231.8 L1011.8,231.2 L1009.6,230.8 L1007.4,230.5 L1005.2,230.4 L1002.9,230.4 L1000.7,230.6 L998.5,231.0 L996.4,231.5 L994.2,232.1 L992.2,232.9 L990.2,233.9 L988.2,234.9 L986.4,236.2 L984.6,237.5 L983.7,238.2Z" fill="#e9d5e6"/>
<path d="M992.6,314.1 L989.0,313.2 L985.5,312.0 L982.1,310.5 L978.8,308.8 L975.6,306.9 L972.5,304.8 L969.6,302.4 L966.9,299.9 L964.4,297.2 L962.0,294.3 L959.9,291.2 L958.0,288.0 L956.3,284.7 L954.8,281.3 L953.6,277.8 L952.7,274.2 L952.0,270.5 L951.5,266.8 L951.3,263.1 L951.4,259.4 L951.7,255.7 L952.3,252.0 L953.1,248.4 L954.2,244.8 L955.5,241.4 L957.1,238.0 L958.9,234.7 L960.9,231.6 L963.2,228.7 L965.6,225.8 L968.2,223.2 L970.7,221.1 L969.2,217.7 L996.1,220.5 L984.9,239.2 L984.4,237.7 L982.7,239.1 L981.2,240.7 L979.7,242.4 L978.4,244.2 L977.2,246.1 L976.1,248.0 L975.2,250.0 L974.4,252.1 L973.8,254.2 L973.3,256.4 L973.0,258.6 L972.8,260.8 L972.8,263.0 L972.9,265.2 L973.2,267.4 L973.7,269.6 L974.3,271.8 L975.0,273.9 L975.9,275.9 L976.9,277.9 L978.1,279.8 L979.4,281.6 L980.8,283.3 L982.3,284.9 L983.9,286.4 L985.7,287.8 L987.5,289.0 L989.4,290.1 L991.4,291.1 L993.5,292.0 L995.6,292.7 L997.4,293.2Z" fill="#f39b9d"/>
<text x="1009.6" y="230.3" font-size="18.4" text-anchor="start" fill="#1b1015" font-weight="normal" textLength="12" lengthAdjust="spacingAndGlyphs" stroke="#1b1015" stroke-width="0.3">S</text>
<text x="950.3" y="266.5" font-size="18.4" text-anchor="start" fill="#1b1015" font-weight="normal" textLength="21" lengthAdjust="spacingAndGlyphs" stroke="#1b1015" stroke-width="0.3">G1</text>
<text x="1035.8" y="271.5" font-size="18.4" text-anchor="start" fill="#1b1015" font-weight="normal" textLength="24" lengthAdjust="spacingAndGlyphs" stroke="#1b1015" stroke-width="0.3">G2</text>
<text x="1010.6" y="307.7" font-size="18.4" text-anchor="start" fill="#1b1015" font-weight="normal" textLength="16" lengthAdjust="spacingAndGlyphs" stroke="#1b1015" stroke-width="0.3">M</text>
<path d="M919.4,235.1 H932.5 C932.5,241.0 927.2,243.4 927.2,245.4 C927.2,247.3 932.5,249.7 932.5,255.6 H919.4 C919.4,249.7 924.7,247.3 924.7,245.4 C924.7,243.4 919.4,241.0 919.4,235.1Z" fill="#fbeef4" stroke="#8f4a78" stroke-width="1.24"/><path d="M920.8,239.8 H931.1 C930.7,242.0 926.8,243.7 926.0,244.6 C925.1,243.7 921.2,242.0 920.8,239.8Z" fill="#d79abd"/><path d="M920.6,255.0 C921.2,252.6 924.5,251.1 926.0,250.9 C927.4,251.1 930.7,252.6 931.3,255.0Z" fill="#d79abd"/><rect x="917.1" y="233.3" width="17.7" height="1.8" rx="0.8" fill="#8f4a78"/><rect x="917.1" y="255.6" width="17.7" height="1.8" rx="0.8" fill="#8f4a78"/>
<path d="M1086.4,220.5 H1105.8 C1105.8,229.4 1097.9,233.0 1097.9,235.9 C1097.9,238.8 1105.8,242.4 1105.8,251.3 H1086.4 C1086.4,242.4 1094.3,238.8 1094.3,235.9 C1094.3,233.0 1086.4,229.4 1086.4,220.5Z" fill="#fbeef4" stroke="#8f4a78" stroke-width="1.83"/><path d="M1088.5,227.6 H1103.7 C1103.2,230.8 1097.4,233.4 1096.1,234.8 C1094.8,233.4 1089.0,230.8 1088.5,227.6Z" fill="#d79abd"/><path d="M1088.2,250.7 C1089.0,246.8 1094.0,244.6 1096.1,244.2 C1098.2,244.6 1103.2,246.8 1104.0,250.7Z" fill="#d79abd"/><rect x="1083.0" y="217.8" width="26.2" height="2.7" rx="0.8" fill="#8f4a78"/><rect x="1083.0" y="251.3" width="26.2" height="2.7" rx="0.8" fill="#8f4a78"/>
<rect x="915.1" y="261.4" width="21.1" height="22.2" fill="url(#tagG1)"/>
<text x="916.1" y="278.5" font-size="18.4" text-anchor="start" fill="#2a0d12" font-weight="normal" textLength="20" lengthAdjust="spacingAndGlyphs" >G1</text>
<rect x="1069.9" y="262.4" width="60.4" height="22.2" fill="#e7cfe0"/>
<text x="1074.6" y="280.5" font-size="18.4" text-anchor="start" fill="#1f0f18" font-weight="normal" textLength="10.4" lengthAdjust="spacingAndGlyphs" >S</text>
<text x="1089" y="280.5" font-size="18.4" text-anchor="start" fill="#1f0f18" font-weight="normal" textLength="40.3" lengthAdjust="spacingAndGlyphs" >G2M</text>
</g>
<g id="boxBot">
<clipPath id="boxBotc"><rect x="892" y="345.4" width="249.5999999999999" height="294.0" rx="9"/></clipPath>
<g clip-path="url(#boxBotc)"><rect x="892" y="345.4" width="249.5999999999999" height="294.0" fill="#fffdfd"/><rect x="892" y="488" width="249.5999999999999" height="151.39999999999998" fill="url(#pinkfade)"/></g>
<rect x="892" y="345.4" width="249.5999999999999" height="294.0" rx="9" fill="none" stroke="#4a4646" stroke-width="1.7"/>
<text x="933.4" y="382" font-size="19" text-anchor="start" fill="#781b2d" font-weight="normal" textLength="167" lengthAdjust="spacingAndGlyphs" stroke="#781b2d" stroke-width="0.3">Lipophilic products</text>
<text x="933.4" y="405.7" font-size="19" text-anchor="start" fill="#781b2d" font-weight="normal" textLength="62" lengthAdjust="spacingAndGlyphs" stroke="#781b2d" stroke-width="0.3">Protein</text>
<text x="933.4" y="427.5" font-size="19" text-anchor="start" fill="#781b2d" font-weight="normal" textLength="86.8" lengthAdjust="spacingAndGlyphs" stroke="#781b2d" stroke-width="0.3">Liposome</text>
<text x="933.4" y="451.8" font-size="19" text-anchor="start" fill="#781b2d" font-weight="normal" textLength="72.6" lengthAdjust="spacingAndGlyphs" stroke="#781b2d" stroke-width="0.3">Cell size</text>
<text x="1114" y="382.6" font-size="19.5" text-anchor="middle" fill="#781b2d" stroke="#781b2d" stroke-width="0.45" font-family="DejaVu Sans, sans-serif" textLength="9.5" lengthAdjust="spacingAndGlyphs">↑</text>
<text x="1008" y="406.3" font-size="19.5" text-anchor="middle" fill="#781b2d" stroke="#781b2d" stroke-width="0.45" font-family="DejaVu Sans, sans-serif" textLength="9.5" lengthAdjust="spacingAndGlyphs">↑</text>
<text x="1033.5" y="428.1" font-size="19.5" text-anchor="middle" fill="#781b2d" stroke="#781b2d" stroke-width="0.45" font-family="DejaVu Sans, sans-serif" textLength="9.5" lengthAdjust="spacingAndGlyphs">↑</text>
<text x="1014.8" y="452.4" font-size="19.5" text-anchor="middle" fill="#781b2d" stroke="#781b2d" stroke-width="0.45" font-family="DejaVu Sans, sans-serif" textLength="9.5" lengthAdjust="spacingAndGlyphs">↑</text>
<path d="M908.5,365.7 L910.8,369.9 L906.2,369.9Z" fill="#a9a3a3" stroke="#9a9494" stroke-width="0.9" stroke-linejoin="round"/>
<path d="M917.5,362.6 L919.7,366.6 L915.3,366.6Z" fill="none" stroke="#8b7d78" stroke-width="0.9" stroke-linejoin="round"/>
<path d="M917.7,371.0 L919.9,375.0 L915.5,375.0Z" fill="none" stroke="#8b7d78" stroke-width="0.9" stroke-linejoin="round"/>
<path d="M911.5,376.0 L913.7,380.0 L909.3,380.0Z" fill="none" stroke="#8b7d78" stroke-width="0.9" stroke-linejoin="round"/>
<circle cx="912.3" cy="394.0" r="0.8" fill="#c9c4c6"/>
<circle cx="919.2" cy="393.2" r="0.8" fill="#c9c4c6"/>
<circle cx="916.8" cy="396.2" r="0.8" fill="#c9c4c6"/>
<circle cx="906.7" cy="397.6" r="0.8" fill="#c9c4c6"/>
<circle cx="906.3" cy="396.8" r="0.8" fill="#c9c4c6"/>
<circle cx="907.0" cy="393.4" r="0.8" fill="#c9c4c6"/>
<circle cx="914.4" cy="400.8" r="0.8" fill="#c9c4c6"/>
<circle cx="908.1" cy="394.7" r="0.8" fill="#c9c4c6"/>
<circle cx="918.7" cy="402.0" r="0.8" fill="#c9c4c6"/>
<circle cx="917.6" cy="396.5" r="0.8" fill="#c9c4c6"/>
<circle cx="926.0" cy="393.0" r="0.8" fill="#c9c4c6"/>
<circle cx="923.5" cy="395.4" r="0.8" fill="#c9c4c6"/>
<circle cx="908.5" cy="393.7" r="0.8" fill="#c9c4c6"/>
<circle cx="912.6" cy="421.1" r="10" fill="url(#lipoS)"/>
<path d="M911,447 Q917,443 925.5,444.5 Q924,452 919,456 Q913,457.5 909,455 Q908.5,450 911,447Z" fill="#fdfbfb" stroke="#dcd8d8" stroke-width="1.1"/>
<path d="M1041.00,448.50 A48.5,48.5 0 1 1 1055.70,469.16 A22.5,22.5 0 1 1 1041.00,448.50Z" fill="#fffdfd" stroke="#2b2727" stroke-width="1.6" stroke-linejoin="round"/>
<circle cx="1097.1" cy="423.4" r="28.5" fill="#fbe3d4" opacity="0.8"/>
<circle cx="1097.1" cy="423.4" r="26" fill="url(#lipoB)"/>
<path d="M1084.5,423.7 L1087.6,429.2 L1081.4,429.2Z" fill="none" stroke="#7f746c" stroke-width="1.0" stroke-linejoin="round"/>
<path d="M1096.5,418.2 L1099.6,423.7 L1093.4,423.7Z" fill="none" stroke="#7f746c" stroke-width="1.0" stroke-linejoin="round"/>
<path d="M1106.5,421.7 L1109.6,427.2 L1103.4,427.2Z" fill="none" stroke="#7f746c" stroke-width="1.0" stroke-linejoin="round"/>
<path d="M1096.0,430.2 L1099.1,435.7 L1092.9,435.7Z" fill="none" stroke="#7f746c" stroke-width="1.0" stroke-linejoin="round"/>
<path d="M1105.5,433.7 L1108.6,439.2 L1102.4,439.2Z" fill="none" stroke="#7f746c" stroke-width="1.0" stroke-linejoin="round"/>
<path d="M1088.0,437.2 L1091.1,442.7 L1084.9,442.7Z" fill="none" stroke="#7f746c" stroke-width="1.0" stroke-linejoin="round"/>
<path d="M1098.0,441.2 L1101.1,446.7 L1094.9,446.7Z" fill="none" stroke="#7f746c" stroke-width="1.0" stroke-linejoin="round"/>
<circle cx="1065.8" cy="457.8" r="1.05" fill="#b3adb0"/>
<circle cx="1049.0" cy="444.8" r="1.05" fill="#b3adb0"/>
<circle cx="1085.9" cy="459.2" r="1.05" fill="#b3adb0"/>
<circle cx="1050.7" cy="444.0" r="1.05" fill="#b3adb0"/>
<circle cx="1073.4" cy="461.7" r="1.05" fill="#b3adb0"/>
<circle cx="1058.4" cy="446.4" r="1.05" fill="#b3adb0"/>
<circle cx="1070.4" cy="452.8" r="1.05" fill="#b3adb0"/>
<circle cx="1062.2" cy="456.4" r="1.05" fill="#b3adb0"/>
<circle cx="1051.4" cy="450.4" r="1.05" fill="#b3adb0"/>
<circle cx="1067.5" cy="446.3" r="1.05" fill="#b3adb0"/>
<circle cx="1059.0" cy="452.0" r="1.05" fill="#b3adb0"/>
<circle cx="1057.4" cy="449.3" r="1.05" fill="#b3adb0"/>
<circle cx="1084.8" cy="458.7" r="1.05" fill="#b3adb0"/>
<circle cx="1049.5" cy="444.9" r="1.05" fill="#b3adb0"/>
<circle cx="1086.1" cy="456.7" r="1.05" fill="#b3adb0"/>
<circle cx="1072.7" cy="455.9" r="1.05" fill="#b3adb0"/>
<circle cx="1056.9" cy="448.5" r="1.05" fill="#b3adb0"/>
<circle cx="1048.7" cy="443.8" r="1.05" fill="#b3adb0"/>
<circle cx="1069.5" cy="451.3" r="1.05" fill="#b3adb0"/>
<circle cx="1072.7" cy="456.7" r="1.05" fill="#b3adb0"/>
<circle cx="1072.3" cy="457.1" r="1.05" fill="#b3adb0"/>
<circle cx="1052.3" cy="443.3" r="1.05" fill="#b3adb0"/>
<circle cx="1073.1" cy="458.3" r="1.05" fill="#b3adb0"/>
<circle cx="1089.1" cy="459.6" r="1.05" fill="#b3adb0"/>
<circle cx="1077.5" cy="457.1" r="1.05" fill="#b3adb0"/>
<circle cx="1049.3" cy="446.7" r="1.05" fill="#b3adb0"/>
<circle cx="1072.3" cy="460.5" r="1.05" fill="#b3adb0"/>
<circle cx="1060.2" cy="457.5" r="1.05" fill="#b3adb0"/>
<circle cx="1069.6" cy="462.6" r="1.05" fill="#b3adb0"/>
<circle cx="1071.5" cy="452.4" r="1.05" fill="#b3adb0"/>
<path d="M1050.2,570.2 L1048.8,573.6 L1047.2,576.8 L1045.4,580.0 L1043.4,583.0 L1041.1,585.8 L1038.7,588.5 L1036.1,591.0 L1033.3,593.4 L1030.4,595.5 L1027.3,597.4 L1024.1,599.1 L1020.8,600.6 L1017.4,601.9 L1013.9,602.9 L1010.3,603.6 L1006.7,604.1 L1003.1,604.4 L999.5,604.4 L995.9,604.1 L992.3,603.6 L988.7,602.9 L987.5,604.1 L978.0,587.0 L994.4,582.1 L993.7,583.0 L995.8,583.4 L998.0,583.7 L1000.2,583.9 L1002.4,583.9 L1004.6,583.7 L1006.8,583.4 L1008.9,583.0 L1011.0,582.4 L1013.1,581.6 L1015.1,580.7 L1017.0,579.7 L1018.9,578.5 L1020.7,577.2 L1022.4,575.8 L1024.0,574.3 L1025.4,572.6 L1026.8,570.9 L1028.0,569.1 L1029.1,567.2 L1030.1,565.2 L1030.9,563.2Z" fill="#ecc2c7"/>
<path d="M1046.3,526.4 L1048.0,529.6 L1049.5,532.9 L1050.8,536.3 L1051.8,539.8 L1052.5,543.4 L1053.0,547.0 L1053.3,550.6 L1053.3,554.2 L1053.0,557.8 L1052.5,561.4 L1051.8,565.0 L1053.0,566.2 L1035.1,576.9 L1031.0,559.3 L1031.9,560.0 L1032.3,557.9 L1032.6,555.7 L1032.8,553.5 L1032.8,551.3 L1032.6,549.1 L1032.3,546.9 L1031.9,544.8 L1031.3,542.7 L1030.5,540.6 L1029.6,538.6 L1028.6,536.6Z" fill="#e1b8d3"/>
<path d="M1001.3,500.4 L1004.9,500.5 L1008.5,500.9 L1012.1,501.5 L1015.6,502.4 L1019.1,503.5 L1022.5,504.9 L1025.7,506.5 L1028.9,508.3 L1031.9,510.3 L1034.7,512.6 L1037.4,515.0 L1039.9,517.6 L1042.3,520.4 L1043.4,521.8 L1044.3,522.3 L1041.8,542.3 L1025.7,534.0 L1026.8,533.9 L1025.4,532.2 L1024.0,530.5 L1022.4,529.0 L1020.7,527.6 L1018.9,526.3 L1017.0,525.1 L1015.1,524.1 L1013.1,523.2 L1011.0,522.4 L1008.9,521.8 L1006.8,521.4 L1004.6,521.1 L1002.4,520.9 L1001.3,520.9Z" fill="#e9d5e6"/>
<path d="M987.8,602.6 L984.4,601.6 L981.0,600.3 L977.7,598.7 L974.5,597.0 L971.5,595.0 L968.6,592.8 L965.8,590.4 L963.3,587.9 L960.9,585.1 L958.7,582.2 L956.7,579.2 L955.0,576.0 L953.4,572.7 L952.1,569.3 L951.1,565.9 L950.3,562.3 L949.7,558.7 L949.4,555.1 L949.3,551.5 L949.5,547.9 L949.9,544.3 L950.6,540.7 L951.6,537.2 L952.8,533.8 L954.2,530.4 L955.8,527.2 L957.7,524.1 L959.8,521.1 L962.1,518.3 L964.5,515.6 L967.2,513.2 L970.0,510.9 L973.0,508.8 L976.1,506.9 L979.3,505.3 L982.7,503.9 L986.1,502.7 L989.6,501.7 L993.2,501.0 L996.8,500.6 L1000.4,500.4 L1003.1,500.4 L1004.2,497.0 L1021.5,515.9 L1001.8,522.4 L1002.4,520.9 L1000.2,520.9 L998.0,521.1 L995.8,521.4 L993.7,521.8 L991.6,522.4 L989.5,523.2 L987.5,524.1 L985.5,525.1 L983.7,526.3 L981.9,527.6 L980.2,529.0 L978.6,530.5 L977.2,532.2 L975.8,533.9 L974.6,535.7 L973.5,537.6 L972.5,539.6 L971.7,541.6 L971.0,543.7 L970.5,545.9 L970.1,548.0 L969.9,550.2 L969.8,552.4 L969.9,554.6 L970.1,556.8 L970.5,558.9 L971.0,561.1 L971.7,563.2 L972.5,565.2 L973.5,567.2 L974.6,569.1 L975.8,570.9 L977.2,572.6 L978.6,574.3 L980.2,575.8 L981.9,577.2 L983.7,578.5 L985.5,579.7 L987.5,580.7 L989.5,581.6 L991.6,582.4 L993.1,582.8Z" fill="#f39b9d"/>
<text x="1026.1" y="531.1" font-size="18.4" text-anchor="start" fill="#1b1015" font-weight="normal" textLength="12" lengthAdjust="spacingAndGlyphs" stroke="#1b1015" stroke-width="0.3">S</text>
<text x="947.6" y="560.7" font-size="18.4" text-anchor="start" fill="#1b1015" font-weight="normal" textLength="20.6" lengthAdjust="spacingAndGlyphs" stroke="#1b1015" stroke-width="0.3">G1</text>
<text x="1032" y="565.4" font-size="18.4" text-anchor="start" fill="#1b1015" font-weight="normal" textLength="22.5" lengthAdjust="spacingAndGlyphs" stroke="#1b1015" stroke-width="0.3">G2</text>
<text x="1009.6" y="599.7" font-size="18.4" text-anchor="start" fill="#1b1015" font-weight="normal" textLength="15.4" lengthAdjust="spacingAndGlyphs" stroke="#1b1015" stroke-width="0.3">M</text>
<path d="M911.8,515.5 H930.8 C930.8,523.9 923.1,527.3 923.1,530.1 C923.1,532.9 930.8,536.3 930.8,544.7 H911.8 C911.8,536.3 919.5,532.9 919.5,530.1 C919.5,527.3 911.8,523.9 911.8,515.5Z" fill="#fbeef4" stroke="#8f4a78" stroke-width="1.79"/><path d="M913.9,522.2 H928.7 C928.2,525.3 922.6,527.7 921.3,529.1 C920.0,527.7 914.4,525.3 913.9,522.2Z" fill="#d79abd"/><path d="M913.6,544.1 C914.4,540.4 919.3,538.4 921.3,538.0 C923.3,538.4 928.2,540.4 929.0,544.1Z" fill="#d79abd"/><rect x="908.5" y="512.9" width="25.6" height="2.6" rx="0.8" fill="#8f4a78"/><rect x="908.5" y="544.7" width="25.6" height="2.6" rx="0.8" fill="#8f4a78"/>
<path d="M1089.2,526.7 H1101.8 C1101.8,532.5 1096.7,534.8 1096.7,536.6 C1096.7,538.5 1101.8,540.8 1101.8,546.6 H1089.2 C1089.2,540.8 1094.3,538.5 1094.3,536.6 C1094.3,534.8 1089.2,532.5 1089.2,526.7Z" fill="#fbeef4" stroke="#8f4a78" stroke-width="1.20"/><path d="M1090.6,531.3 H1100.4 C1100.1,533.4 1096.3,535.0 1095.5,536.0 C1094.7,535.0 1090.9,533.4 1090.6,531.3Z" fill="#d79abd"/><path d="M1090.4,546.0 C1090.9,543.6 1094.1,542.2 1095.5,542.0 C1096.9,542.2 1100.1,543.6 1100.6,546.0Z" fill="#d79abd"/><rect x="1087.0" y="525.0" width="17.0" height="1.7" rx="0.8" fill="#8f4a78"/><rect x="1087.0" y="546.6" width="17.0" height="1.7" rx="0.8" fill="#8f4a78"/>
<rect x="911.7" y="556.4" width="21.4" height="20.4" fill="url(#tagG1)"/>
<text x="912.3" y="573" font-size="18.4" text-anchor="start" fill="#2a0d12" font-weight="normal" textLength="20.2" lengthAdjust="spacingAndGlyphs" >G1</text>
<rect x="1066.6" y="556.6" width="16.4" height="21" fill="#e8dce7"/><rect x="1084.2" y="556.6" width="42.0" height="21" fill="url(#tagG2M)"/>
<text x="1069" y="575.7" font-size="18.4" text-anchor="start" fill="#1f0f18" font-weight="normal" textLength="10.4" lengthAdjust="spacingAndGlyphs" >S</text>
<text x="1085.1" y="575.7" font-size="18.4" text-anchor="start" fill="#1f0f18" font-weight="normal" textLength="40.5" lengthAdjust="spacingAndGlyphs" >G2M</text>
</g>
</svg>
</body></html>
